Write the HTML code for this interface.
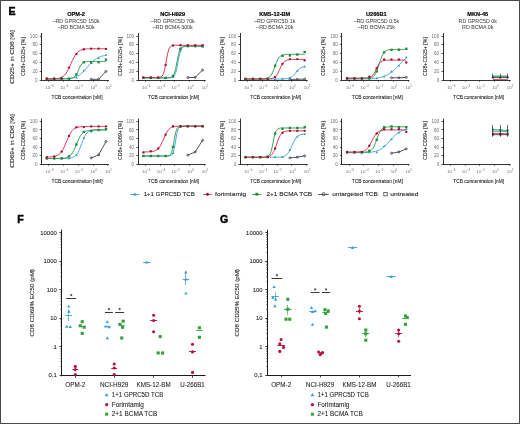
<!DOCTYPE html>
<html><head><meta charset="utf-8"><style>
html,body{margin:0;padding:0;background:#fff;}
body{width:520px;height:424px;overflow:hidden;}
svg{display:block;font-family:"Liberation Sans", sans-serif;filter:blur(0.35px);}
</style></head><body>
<svg width="520" height="424" viewBox="0 0 520 424">
<rect x="0" y="0" width="520" height="424" fill="#fff"/>
<line x1="41.50" y1="33.00" x2="41.50" y2="80.60" stroke="#1a1a1a" stroke-width="0.9"/>
<line x1="41.10" y1="80.50" x2="109.00" y2="80.50" stroke="#1a1a1a" stroke-width="0.9"/>
<line x1="39.70" y1="80.50" x2="41.50" y2="80.50" stroke="#1a1a1a" stroke-width="0.7"/>
<text x="37.50" y="81.80" font-size="4.6" text-anchor="end" fill="#707070">0</text>
<line x1="39.70" y1="71.50" x2="41.50" y2="71.50" stroke="#1a1a1a" stroke-width="0.7"/>
<text x="37.50" y="72.96" font-size="4.6" text-anchor="end" fill="#707070">20</text>
<line x1="39.70" y1="62.50" x2="41.50" y2="62.50" stroke="#1a1a1a" stroke-width="0.7"/>
<text x="37.50" y="64.12" font-size="4.6" text-anchor="end" fill="#707070">40</text>
<line x1="39.70" y1="53.50" x2="41.50" y2="53.50" stroke="#1a1a1a" stroke-width="0.7"/>
<text x="37.50" y="55.28" font-size="4.6" text-anchor="end" fill="#707070">60</text>
<line x1="39.70" y1="44.50" x2="41.50" y2="44.50" stroke="#1a1a1a" stroke-width="0.7"/>
<text x="37.50" y="46.44" font-size="4.6" text-anchor="end" fill="#707070">80</text>
<line x1="39.70" y1="36.50" x2="41.50" y2="36.50" stroke="#1a1a1a" stroke-width="0.7"/>
<text x="37.50" y="37.60" font-size="4.6" text-anchor="end" fill="#707070">100</text>
<line x1="48.50" y1="80.20" x2="48.50" y2="81.80" stroke="#1a1a1a" stroke-width="0.6"/>
<line x1="63.50" y1="80.20" x2="63.50" y2="81.80" stroke="#1a1a1a" stroke-width="0.6"/>
<line x1="78.50" y1="80.20" x2="78.50" y2="81.80" stroke="#1a1a1a" stroke-width="0.6"/>
<line x1="93.50" y1="80.20" x2="93.50" y2="81.80" stroke="#1a1a1a" stroke-width="0.6"/>
<line x1="107.50" y1="80.20" x2="107.50" y2="81.80" stroke="#1a1a1a" stroke-width="0.6"/>
<line x1="43.50" y1="80.20" x2="43.50" y2="81.20" stroke="#666" stroke-width="0.35"/>
<line x1="45.50" y1="80.20" x2="45.50" y2="81.20" stroke="#666" stroke-width="0.35"/>
<line x1="47.50" y1="80.20" x2="47.50" y2="81.20" stroke="#666" stroke-width="0.35"/>
<line x1="50.50" y1="80.20" x2="50.50" y2="81.20" stroke="#666" stroke-width="0.35"/>
<line x1="52.50" y1="80.20" x2="52.50" y2="81.20" stroke="#666" stroke-width="0.35"/>
<line x1="54.50" y1="80.20" x2="54.50" y2="81.20" stroke="#666" stroke-width="0.35"/>
<line x1="56.50" y1="80.20" x2="56.50" y2="81.20" stroke="#666" stroke-width="0.35"/>
<line x1="58.50" y1="80.20" x2="58.50" y2="81.20" stroke="#666" stroke-width="0.35"/>
<line x1="61.50" y1="80.20" x2="61.50" y2="81.20" stroke="#666" stroke-width="0.35"/>
<line x1="63.50" y1="80.20" x2="63.50" y2="81.20" stroke="#666" stroke-width="0.35"/>
<line x1="65.50" y1="80.20" x2="65.50" y2="81.20" stroke="#666" stroke-width="0.35"/>
<line x1="67.50" y1="80.20" x2="67.50" y2="81.20" stroke="#666" stroke-width="0.35"/>
<line x1="69.50" y1="80.20" x2="69.50" y2="81.20" stroke="#666" stroke-width="0.35"/>
<line x1="72.50" y1="80.20" x2="72.50" y2="81.20" stroke="#666" stroke-width="0.35"/>
<line x1="74.50" y1="80.20" x2="74.50" y2="81.20" stroke="#666" stroke-width="0.35"/>
<line x1="76.50" y1="80.20" x2="76.50" y2="81.20" stroke="#666" stroke-width="0.35"/>
<line x1="78.50" y1="80.20" x2="78.50" y2="81.20" stroke="#666" stroke-width="0.35"/>
<line x1="80.50" y1="80.20" x2="80.50" y2="81.20" stroke="#666" stroke-width="0.35"/>
<line x1="83.50" y1="80.20" x2="83.50" y2="81.20" stroke="#666" stroke-width="0.35"/>
<line x1="85.50" y1="80.20" x2="85.50" y2="81.20" stroke="#666" stroke-width="0.35"/>
<line x1="87.50" y1="80.20" x2="87.50" y2="81.20" stroke="#666" stroke-width="0.35"/>
<line x1="89.50" y1="80.20" x2="89.50" y2="81.20" stroke="#666" stroke-width="0.35"/>
<line x1="91.50" y1="80.20" x2="91.50" y2="81.20" stroke="#666" stroke-width="0.35"/>
<line x1="94.50" y1="80.20" x2="94.50" y2="81.20" stroke="#666" stroke-width="0.35"/>
<line x1="96.50" y1="80.20" x2="96.50" y2="81.20" stroke="#666" stroke-width="0.35"/>
<line x1="98.50" y1="80.20" x2="98.50" y2="81.20" stroke="#666" stroke-width="0.35"/>
<line x1="100.50" y1="80.20" x2="100.50" y2="81.20" stroke="#666" stroke-width="0.35"/>
<line x1="102.50" y1="80.20" x2="102.50" y2="81.20" stroke="#666" stroke-width="0.35"/>
<line x1="105.50" y1="80.20" x2="105.50" y2="81.20" stroke="#666" stroke-width="0.35"/>
<line x1="107.50" y1="80.20" x2="107.50" y2="81.20" stroke="#666" stroke-width="0.35"/>
<text x="49.60" y="89.00" font-size="4.4" text-anchor="middle" fill="#707070">10<tspan font-size="3.0" dy="-1.9">−6</tspan></text>
<text x="64.30" y="89.00" font-size="4.4" text-anchor="middle" fill="#707070">10<tspan font-size="3.0" dy="-1.9">−4</tspan></text>
<text x="79.00" y="89.00" font-size="4.4" text-anchor="middle" fill="#707070">10<tspan font-size="3.0" dy="-1.9">−2</tspan></text>
<text x="93.70" y="89.00" font-size="4.4" text-anchor="middle" fill="#707070">10<tspan font-size="3.0" dy="-1.9">0</tspan></text>
<text x="108.40" y="89.00" font-size="4.4" text-anchor="middle" fill="#707070">10<tspan font-size="3.0" dy="-1.9">2</tspan></text>
<text x="77.00" y="99.20" font-size="6.2" text-anchor="middle" fill="#262626" stroke="#262626" stroke-width="0.1" textLength="51" lengthAdjust="spacingAndGlyphs">TCB concentration [nM]</text>
<text x="25.10" y="56.60" font-size="5.9" text-anchor="middle" fill="#262626" stroke="#262626" stroke-width="0.1" textLength="39" lengthAdjust="spacingAndGlyphs" transform="rotate(-90 25.10 56.60)">CD8+CD25+ [%]</text>
<path d="M91.20 79.32 L98.60 79.32 L106.00 71.36" fill="none" stroke="#484c58" stroke-width="0.95" stroke-linejoin="round"/>
<path d="M46.80 79.19 L48.15 79.19 L49.49 79.18 L50.84 79.18 L52.18 79.17 L53.53 79.17 L54.87 79.16 L56.22 79.14 L57.56 79.12 L58.91 79.10 L60.25 79.07 L61.60 79.04 L62.95 78.99 L64.29 78.93 L65.64 78.85 L66.98 78.74 L68.33 78.61 L69.67 78.44 L71.02 78.22 L72.36 77.95 L73.71 77.60 L75.05 77.17 L76.40 76.63 L77.75 75.97 L79.09 75.17 L80.44 74.21 L81.78 73.10 L83.13 71.84 L84.47 70.43 L85.82 68.93 L87.16 67.35 L88.51 65.77 L89.85 64.22 L91.20 62.76 L92.55 61.43 L93.89 60.24 L95.24 59.21 L96.58 58.33 L97.93 57.61 L99.27 57.01 L100.62 56.52 L101.96 56.14 L103.31 55.83 L104.65 55.59 L106.00 55.39" fill="none" stroke="#40a8d8" stroke-width="0.95" stroke-linejoin="round"/>
<path d="M46.80 78.72 L48.15 78.72 L49.49 78.72 L50.84 78.72 L52.18 78.72 L53.53 78.72 L54.87 78.72 L56.22 78.72 L57.56 78.72 L58.91 78.72 L60.25 78.72 L61.60 78.72 L62.95 78.72 L64.29 78.71 L65.64 78.71 L66.98 78.69 L68.33 78.65 L69.67 78.58 L71.02 78.42 L72.36 78.11 L73.71 77.50 L75.05 76.37 L76.40 74.45 L77.75 71.71 L79.09 68.59 L80.44 65.82 L81.78 63.86 L83.13 62.70 L84.47 62.07 L85.82 61.75 L87.16 61.59 L88.51 61.51 L89.85 61.48 L91.20 61.46 L92.55 61.45 L93.89 61.45 L95.24 61.44 L96.58 61.44 L97.93 61.44 L99.27 61.44 L100.62 61.44 L101.96 61.44 L103.31 61.44 L104.65 61.44 L106.00 61.44" fill="none" stroke="#2f9e4c" stroke-width="0.95" stroke-linejoin="round"/>
<path d="M46.80 79.11 L48.15 79.10 L49.49 79.08 L50.84 79.05 L52.18 79.02 L53.53 78.96 L54.87 78.87 L56.22 78.75 L57.56 78.56 L58.91 78.29 L60.25 77.89 L61.60 77.32 L62.95 76.50 L64.29 75.36 L65.64 73.83 L66.98 71.84 L68.33 69.39 L69.67 66.58 L71.02 63.56 L72.36 60.56 L73.71 57.82 L75.05 55.49 L76.40 53.61 L77.75 52.18 L79.09 51.13 L80.44 50.37 L81.78 49.85 L83.13 49.48 L84.47 49.23 L85.82 49.07 L87.16 48.95 L88.51 48.87 L89.85 48.82 L91.20 48.79 L92.55 48.76 L93.89 48.75 L95.24 48.74 L96.58 48.73 L97.93 48.73 L99.27 48.72 L100.62 48.72 L101.96 48.72 L103.31 48.72 L104.65 48.72 L106.00 48.72" fill="none" stroke="#d8304e" stroke-width="0.95" stroke-linejoin="round"/>
<circle cx="91.20" cy="79.32" r="1.0" fill="none" stroke="#3a3e4c" stroke-width="0.8"/>
<circle cx="98.60" cy="79.32" r="1.0" fill="none" stroke="#3a3e4c" stroke-width="0.8"/>
<circle cx="106.00" cy="71.36" r="1.0" fill="none" stroke="#3a3e4c" stroke-width="0.8"/>
<path d="M46.80 77.53 L48.10 79.77 L45.50 79.77 Z" fill="#2f94c8"/>
<path d="M54.20 77.53 L55.50 79.77 L52.90 79.77 Z" fill="#2f94c8"/>
<path d="M61.60 77.53 L62.90 79.77 L60.30 79.77 Z" fill="#2f94c8"/>
<path d="M69.00 77.53 L70.30 79.77 L67.70 79.77 Z" fill="#2f94c8"/>
<path d="M76.40 76.20 L77.70 78.44 L75.10 78.44 Z" fill="#2f94c8"/>
<path d="M83.80 69.13 L85.10 71.37 L82.50 71.37 Z" fill="#2f94c8"/>
<path d="M91.20 61.40 L92.50 63.64 L89.90 63.64 Z" fill="#2f94c8"/>
<path d="M98.60 56.75 L99.90 59.00 L97.30 59.00 Z" fill="#2f94c8"/>
<path d="M106.00 53.44 L107.30 55.68 L104.70 55.68 Z" fill="#2f94c8"/>
<rect x="45.62" y="77.52" width="2.36" height="2.36" fill="#1f8a3a"/>
<rect x="53.02" y="77.52" width="2.36" height="2.36" fill="#1f8a3a"/>
<rect x="60.42" y="77.52" width="2.36" height="2.36" fill="#1f8a3a"/>
<rect x="67.82" y="77.52" width="2.36" height="2.36" fill="#1f8a3a"/>
<rect x="75.22" y="73.27" width="2.36" height="2.36" fill="#1f8a3a"/>
<rect x="82.62" y="61.12" width="2.36" height="2.36" fill="#1f8a3a"/>
<rect x="90.02" y="61.34" width="2.36" height="2.36" fill="#1f8a3a"/>
<rect x="97.42" y="61.03" width="2.36" height="2.36" fill="#1f8a3a"/>
<rect x="104.82" y="58.47" width="2.36" height="2.36" fill="#1f8a3a"/>
<circle cx="46.80" cy="78.70" r="1.18" fill="#a3112f"/>
<circle cx="54.20" cy="78.70" r="1.18" fill="#a3112f"/>
<circle cx="61.60" cy="78.21" r="1.18" fill="#a3112f"/>
<circle cx="69.00" cy="67.60" r="1.18" fill="#a3112f"/>
<circle cx="76.40" cy="53.99" r="1.18" fill="#a3112f"/>
<circle cx="83.80" cy="49.26" r="1.18" fill="#a3112f"/>
<circle cx="91.20" cy="48.60" r="1.18" fill="#a3112f"/>
<circle cx="98.60" cy="48.60" r="1.18" fill="#a3112f"/>
<circle cx="106.00" cy="48.91" r="1.18" fill="#a3112f"/>
<line x1="138.50" y1="33.00" x2="138.50" y2="80.60" stroke="#1a1a1a" stroke-width="0.9"/>
<line x1="137.70" y1="80.50" x2="205.60" y2="80.50" stroke="#1a1a1a" stroke-width="0.9"/>
<line x1="136.30" y1="80.50" x2="138.10" y2="80.50" stroke="#1a1a1a" stroke-width="0.7"/>
<text x="134.10" y="81.80" font-size="4.6" text-anchor="end" fill="#707070">0</text>
<line x1="136.30" y1="71.50" x2="138.10" y2="71.50" stroke="#1a1a1a" stroke-width="0.7"/>
<text x="134.10" y="72.96" font-size="4.6" text-anchor="end" fill="#707070">20</text>
<line x1="136.30" y1="62.50" x2="138.10" y2="62.50" stroke="#1a1a1a" stroke-width="0.7"/>
<text x="134.10" y="64.12" font-size="4.6" text-anchor="end" fill="#707070">40</text>
<line x1="136.30" y1="53.50" x2="138.10" y2="53.50" stroke="#1a1a1a" stroke-width="0.7"/>
<text x="134.10" y="55.28" font-size="4.6" text-anchor="end" fill="#707070">60</text>
<line x1="136.30" y1="44.50" x2="138.10" y2="44.50" stroke="#1a1a1a" stroke-width="0.7"/>
<text x="134.10" y="46.44" font-size="4.6" text-anchor="end" fill="#707070">80</text>
<line x1="136.30" y1="36.50" x2="138.10" y2="36.50" stroke="#1a1a1a" stroke-width="0.7"/>
<text x="134.10" y="37.60" font-size="4.6" text-anchor="end" fill="#707070">100</text>
<line x1="145.50" y1="80.20" x2="145.50" y2="81.80" stroke="#1a1a1a" stroke-width="0.6"/>
<line x1="160.50" y1="80.20" x2="160.50" y2="81.80" stroke="#1a1a1a" stroke-width="0.6"/>
<line x1="174.50" y1="80.20" x2="174.50" y2="81.80" stroke="#1a1a1a" stroke-width="0.6"/>
<line x1="189.50" y1="80.20" x2="189.50" y2="81.80" stroke="#1a1a1a" stroke-width="0.6"/>
<line x1="204.50" y1="80.20" x2="204.50" y2="81.80" stroke="#1a1a1a" stroke-width="0.6"/>
<line x1="140.50" y1="80.20" x2="140.50" y2="81.20" stroke="#666" stroke-width="0.35"/>
<line x1="142.50" y1="80.20" x2="142.50" y2="81.20" stroke="#666" stroke-width="0.35"/>
<line x1="144.50" y1="80.20" x2="144.50" y2="81.20" stroke="#666" stroke-width="0.35"/>
<line x1="146.50" y1="80.20" x2="146.50" y2="81.20" stroke="#666" stroke-width="0.35"/>
<line x1="148.50" y1="80.20" x2="148.50" y2="81.20" stroke="#666" stroke-width="0.35"/>
<line x1="151.50" y1="80.20" x2="151.50" y2="81.20" stroke="#666" stroke-width="0.35"/>
<line x1="153.50" y1="80.20" x2="153.50" y2="81.20" stroke="#666" stroke-width="0.35"/>
<line x1="155.50" y1="80.20" x2="155.50" y2="81.20" stroke="#666" stroke-width="0.35"/>
<line x1="157.50" y1="80.20" x2="157.50" y2="81.20" stroke="#666" stroke-width="0.35"/>
<line x1="159.50" y1="80.20" x2="159.50" y2="81.20" stroke="#666" stroke-width="0.35"/>
<line x1="162.50" y1="80.20" x2="162.50" y2="81.20" stroke="#666" stroke-width="0.35"/>
<line x1="164.50" y1="80.20" x2="164.50" y2="81.20" stroke="#666" stroke-width="0.35"/>
<line x1="166.50" y1="80.20" x2="166.50" y2="81.20" stroke="#666" stroke-width="0.35"/>
<line x1="168.50" y1="80.20" x2="168.50" y2="81.20" stroke="#666" stroke-width="0.35"/>
<line x1="170.50" y1="80.20" x2="170.50" y2="81.20" stroke="#666" stroke-width="0.35"/>
<line x1="173.50" y1="80.20" x2="173.50" y2="81.20" stroke="#666" stroke-width="0.35"/>
<line x1="175.50" y1="80.20" x2="175.50" y2="81.20" stroke="#666" stroke-width="0.35"/>
<line x1="177.50" y1="80.20" x2="177.50" y2="81.20" stroke="#666" stroke-width="0.35"/>
<line x1="179.50" y1="80.20" x2="179.50" y2="81.20" stroke="#666" stroke-width="0.35"/>
<line x1="181.50" y1="80.20" x2="181.50" y2="81.20" stroke="#666" stroke-width="0.35"/>
<line x1="184.50" y1="80.20" x2="184.50" y2="81.20" stroke="#666" stroke-width="0.35"/>
<line x1="186.50" y1="80.20" x2="186.50" y2="81.20" stroke="#666" stroke-width="0.35"/>
<line x1="188.50" y1="80.20" x2="188.50" y2="81.20" stroke="#666" stroke-width="0.35"/>
<line x1="190.50" y1="80.20" x2="190.50" y2="81.20" stroke="#666" stroke-width="0.35"/>
<line x1="192.50" y1="80.20" x2="192.50" y2="81.20" stroke="#666" stroke-width="0.35"/>
<line x1="195.50" y1="80.20" x2="195.50" y2="81.20" stroke="#666" stroke-width="0.35"/>
<line x1="197.50" y1="80.20" x2="197.50" y2="81.20" stroke="#666" stroke-width="0.35"/>
<line x1="199.50" y1="80.20" x2="199.50" y2="81.20" stroke="#666" stroke-width="0.35"/>
<line x1="201.50" y1="80.20" x2="201.50" y2="81.20" stroke="#666" stroke-width="0.35"/>
<line x1="203.50" y1="80.20" x2="203.50" y2="81.20" stroke="#666" stroke-width="0.35"/>
<text x="146.20" y="89.00" font-size="4.4" text-anchor="middle" fill="#707070">10<tspan font-size="3.0" dy="-1.9">−6</tspan></text>
<text x="160.90" y="89.00" font-size="4.4" text-anchor="middle" fill="#707070">10<tspan font-size="3.0" dy="-1.9">−4</tspan></text>
<text x="175.60" y="89.00" font-size="4.4" text-anchor="middle" fill="#707070">10<tspan font-size="3.0" dy="-1.9">−2</tspan></text>
<text x="190.30" y="89.00" font-size="4.4" text-anchor="middle" fill="#707070">10<tspan font-size="3.0" dy="-1.9">0</tspan></text>
<text x="205.00" y="89.00" font-size="4.4" text-anchor="middle" fill="#707070">10<tspan font-size="3.0" dy="-1.9">2</tspan></text>
<text x="173.60" y="99.20" font-size="6.2" text-anchor="middle" fill="#262626" stroke="#262626" stroke-width="0.1" textLength="51" lengthAdjust="spacingAndGlyphs">TCB concentration [nM]</text>
<text x="121.70" y="56.60" font-size="5.9" text-anchor="middle" fill="#262626" stroke="#262626" stroke-width="0.1" textLength="39" lengthAdjust="spacingAndGlyphs" transform="rotate(-90 121.70 56.60)">CD8+CD25+ [%]</text>
<path d="M187.80 77.55 L195.20 77.33 L202.60 70.03" fill="none" stroke="#484c58" stroke-width="0.95" stroke-linejoin="round"/>
<path d="M143.40 77.99 L144.75 77.99 L146.09 77.99 L147.44 77.99 L148.78 77.99 L150.13 77.99 L151.47 77.99 L152.82 77.99 L154.16 77.99 L155.51 77.99 L156.85 77.99 L158.20 77.99 L159.55 77.99 L160.89 77.99 L162.24 77.99 L163.58 77.99 L164.93 77.99 L166.27 77.98 L167.62 77.97 L168.96 77.94 L170.31 77.86 L171.65 77.65 L173.00 77.11 L174.35 75.79 L175.69 72.80 L177.04 67.24 L178.38 59.81 L179.73 53.30 L181.07 49.40 L182.42 47.56 L183.76 46.80 L185.11 46.49 L186.45 46.38 L187.80 46.33 L189.15 46.32 L190.49 46.31 L191.84 46.31 L193.18 46.31 L194.53 46.30 L195.87 46.30 L197.22 46.30 L198.56 46.30 L199.91 46.30 L201.25 46.30 L202.60 46.30" fill="none" stroke="#40a8d8" stroke-width="0.95" stroke-linejoin="round"/>
<path d="M143.40 77.82 L144.75 77.82 L146.09 77.82 L147.44 77.82 L148.78 77.82 L150.13 77.82 L151.47 77.82 L152.82 77.82 L154.16 77.82 L155.51 77.82 L156.85 77.82 L158.20 77.82 L159.55 77.82 L160.89 77.82 L162.24 77.81 L163.58 77.81 L164.93 77.81 L166.27 77.80 L167.62 77.77 L168.96 77.69 L170.31 77.51 L171.65 77.04 L173.00 75.91 L174.35 73.38 L175.69 68.54 L177.04 61.56 L178.38 54.75 L179.73 50.20 L181.07 47.88 L182.42 46.86 L183.76 46.44 L185.11 46.27 L186.45 46.20 L187.80 46.18 L189.15 46.17 L190.49 46.16 L191.84 46.16 L193.18 46.16 L194.53 46.16 L195.87 46.16 L197.22 46.16 L198.56 46.16 L199.91 46.16 L201.25 46.16 L202.60 46.16" fill="none" stroke="#2f9e4c" stroke-width="0.95" stroke-linejoin="round"/>
<path d="M143.40 77.57 L144.75 77.57 L146.09 77.57 L147.44 77.57 L148.78 77.57 L150.13 77.57 L151.47 77.57 L152.82 77.57 L154.16 77.57 L155.51 77.56 L156.85 77.55 L158.20 77.49 L159.55 77.35 L160.89 76.98 L162.24 75.99 L163.58 73.56 L164.93 68.52 L166.27 60.89 L167.62 53.49 L168.96 48.86 L170.31 46.69 L171.65 45.81 L173.00 45.48 L174.35 45.36 L175.69 45.31 L177.04 45.30 L178.38 45.29 L179.73 45.29 L181.07 45.29 L182.42 45.29 L183.76 45.29 L185.11 45.29 L186.45 45.29 L187.80 45.29 L189.15 45.29 L190.49 45.29 L191.84 45.29 L193.18 45.29 L194.53 45.29 L195.87 45.29 L197.22 45.29 L198.56 45.29 L199.91 45.29 L201.25 45.29 L202.60 45.29" fill="none" stroke="#d8304e" stroke-width="0.95" stroke-linejoin="round"/>
<circle cx="187.80" cy="77.55" r="1.0" fill="none" stroke="#3a3e4c" stroke-width="0.8"/>
<circle cx="195.20" cy="77.33" r="1.0" fill="none" stroke="#3a3e4c" stroke-width="0.8"/>
<circle cx="202.60" cy="70.03" r="1.0" fill="none" stroke="#3a3e4c" stroke-width="0.8"/>
<path d="M143.40 76.64 L144.70 78.89 L142.10 78.89 Z" fill="#2f94c8"/>
<path d="M150.80 76.64 L152.10 78.89 L149.50 78.89 Z" fill="#2f94c8"/>
<path d="M158.20 76.64 L159.50 78.89 L156.90 78.89 Z" fill="#2f94c8"/>
<path d="M165.60 76.64 L166.90 78.89 L164.30 78.89 Z" fill="#2f94c8"/>
<path d="M173.00 75.76 L174.30 78.00 L171.70 78.00 Z" fill="#2f94c8"/>
<path d="M180.40 49.68 L181.70 51.92 L179.10 51.92 Z" fill="#2f94c8"/>
<path d="M187.80 44.82 L189.10 47.06 L186.50 47.06 Z" fill="#2f94c8"/>
<path d="M195.20 44.82 L196.50 47.06 L193.90 47.06 Z" fill="#2f94c8"/>
<path d="M202.60 45.26 L203.90 47.50 L201.30 47.50 Z" fill="#2f94c8"/>
<rect x="142.22" y="76.63" width="2.36" height="2.36" fill="#1f8a3a"/>
<rect x="149.62" y="76.63" width="2.36" height="2.36" fill="#1f8a3a"/>
<rect x="157.02" y="76.63" width="2.36" height="2.36" fill="#1f8a3a"/>
<rect x="164.42" y="76.63" width="2.36" height="2.36" fill="#1f8a3a"/>
<rect x="171.82" y="74.73" width="2.36" height="2.36" fill="#1f8a3a"/>
<rect x="179.22" y="47.64" width="2.36" height="2.36" fill="#1f8a3a"/>
<rect x="186.62" y="44.99" width="2.36" height="2.36" fill="#1f8a3a"/>
<rect x="194.02" y="44.99" width="2.36" height="2.36" fill="#1f8a3a"/>
<rect x="201.42" y="44.99" width="2.36" height="2.36" fill="#1f8a3a"/>
<circle cx="143.40" cy="77.55" r="1.18" fill="#a3112f"/>
<circle cx="150.80" cy="77.55" r="1.18" fill="#a3112f"/>
<circle cx="158.20" cy="77.55" r="1.18" fill="#a3112f"/>
<circle cx="165.60" cy="64.91" r="1.18" fill="#a3112f"/>
<circle cx="173.00" cy="45.50" r="1.18" fill="#a3112f"/>
<circle cx="180.40" cy="45.28" r="1.18" fill="#a3112f"/>
<circle cx="187.80" cy="45.28" r="1.18" fill="#a3112f"/>
<circle cx="195.20" cy="45.28" r="1.18" fill="#a3112f"/>
<circle cx="202.60" cy="45.28" r="1.18" fill="#a3112f"/>
<line x1="240.50" y1="33.00" x2="240.50" y2="80.60" stroke="#1a1a1a" stroke-width="0.9"/>
<line x1="239.80" y1="80.50" x2="307.70" y2="80.50" stroke="#1a1a1a" stroke-width="0.9"/>
<line x1="238.40" y1="80.50" x2="240.20" y2="80.50" stroke="#1a1a1a" stroke-width="0.7"/>
<text x="236.20" y="81.80" font-size="4.6" text-anchor="end" fill="#707070">0</text>
<line x1="238.40" y1="71.50" x2="240.20" y2="71.50" stroke="#1a1a1a" stroke-width="0.7"/>
<text x="236.20" y="72.96" font-size="4.6" text-anchor="end" fill="#707070">20</text>
<line x1="238.40" y1="62.50" x2="240.20" y2="62.50" stroke="#1a1a1a" stroke-width="0.7"/>
<text x="236.20" y="64.12" font-size="4.6" text-anchor="end" fill="#707070">40</text>
<line x1="238.40" y1="53.50" x2="240.20" y2="53.50" stroke="#1a1a1a" stroke-width="0.7"/>
<text x="236.20" y="55.28" font-size="4.6" text-anchor="end" fill="#707070">60</text>
<line x1="238.40" y1="44.50" x2="240.20" y2="44.50" stroke="#1a1a1a" stroke-width="0.7"/>
<text x="236.20" y="46.44" font-size="4.6" text-anchor="end" fill="#707070">80</text>
<line x1="238.40" y1="36.50" x2="240.20" y2="36.50" stroke="#1a1a1a" stroke-width="0.7"/>
<text x="236.20" y="37.60" font-size="4.6" text-anchor="end" fill="#707070">100</text>
<line x1="247.50" y1="80.20" x2="247.50" y2="81.80" stroke="#1a1a1a" stroke-width="0.6"/>
<line x1="262.50" y1="80.20" x2="262.50" y2="81.80" stroke="#1a1a1a" stroke-width="0.6"/>
<line x1="277.50" y1="80.20" x2="277.50" y2="81.80" stroke="#1a1a1a" stroke-width="0.6"/>
<line x1="291.50" y1="80.20" x2="291.50" y2="81.80" stroke="#1a1a1a" stroke-width="0.6"/>
<line x1="306.50" y1="80.20" x2="306.50" y2="81.80" stroke="#1a1a1a" stroke-width="0.6"/>
<line x1="242.50" y1="80.20" x2="242.50" y2="81.20" stroke="#666" stroke-width="0.35"/>
<line x1="244.50" y1="80.20" x2="244.50" y2="81.20" stroke="#666" stroke-width="0.35"/>
<line x1="246.50" y1="80.20" x2="246.50" y2="81.20" stroke="#666" stroke-width="0.35"/>
<line x1="248.50" y1="80.20" x2="248.50" y2="81.20" stroke="#666" stroke-width="0.35"/>
<line x1="251.50" y1="80.20" x2="251.50" y2="81.20" stroke="#666" stroke-width="0.35"/>
<line x1="253.50" y1="80.20" x2="253.50" y2="81.20" stroke="#666" stroke-width="0.35"/>
<line x1="255.50" y1="80.20" x2="255.50" y2="81.20" stroke="#666" stroke-width="0.35"/>
<line x1="257.50" y1="80.20" x2="257.50" y2="81.20" stroke="#666" stroke-width="0.35"/>
<line x1="259.50" y1="80.20" x2="259.50" y2="81.20" stroke="#666" stroke-width="0.35"/>
<line x1="262.50" y1="80.20" x2="262.50" y2="81.20" stroke="#666" stroke-width="0.35"/>
<line x1="264.50" y1="80.20" x2="264.50" y2="81.20" stroke="#666" stroke-width="0.35"/>
<line x1="266.50" y1="80.20" x2="266.50" y2="81.20" stroke="#666" stroke-width="0.35"/>
<line x1="268.50" y1="80.20" x2="268.50" y2="81.20" stroke="#666" stroke-width="0.35"/>
<line x1="270.50" y1="80.20" x2="270.50" y2="81.20" stroke="#666" stroke-width="0.35"/>
<line x1="273.50" y1="80.20" x2="273.50" y2="81.20" stroke="#666" stroke-width="0.35"/>
<line x1="275.50" y1="80.20" x2="275.50" y2="81.20" stroke="#666" stroke-width="0.35"/>
<line x1="277.50" y1="80.20" x2="277.50" y2="81.20" stroke="#666" stroke-width="0.35"/>
<line x1="279.50" y1="80.20" x2="279.50" y2="81.20" stroke="#666" stroke-width="0.35"/>
<line x1="281.50" y1="80.20" x2="281.50" y2="81.20" stroke="#666" stroke-width="0.35"/>
<line x1="284.50" y1="80.20" x2="284.50" y2="81.20" stroke="#666" stroke-width="0.35"/>
<line x1="286.50" y1="80.20" x2="286.50" y2="81.20" stroke="#666" stroke-width="0.35"/>
<line x1="288.50" y1="80.20" x2="288.50" y2="81.20" stroke="#666" stroke-width="0.35"/>
<line x1="290.50" y1="80.20" x2="290.50" y2="81.20" stroke="#666" stroke-width="0.35"/>
<line x1="292.50" y1="80.20" x2="292.50" y2="81.20" stroke="#666" stroke-width="0.35"/>
<line x1="295.50" y1="80.20" x2="295.50" y2="81.20" stroke="#666" stroke-width="0.35"/>
<line x1="297.50" y1="80.20" x2="297.50" y2="81.20" stroke="#666" stroke-width="0.35"/>
<line x1="299.50" y1="80.20" x2="299.50" y2="81.20" stroke="#666" stroke-width="0.35"/>
<line x1="301.50" y1="80.20" x2="301.50" y2="81.20" stroke="#666" stroke-width="0.35"/>
<line x1="303.50" y1="80.20" x2="303.50" y2="81.20" stroke="#666" stroke-width="0.35"/>
<line x1="306.50" y1="80.20" x2="306.50" y2="81.20" stroke="#666" stroke-width="0.35"/>
<text x="248.30" y="89.00" font-size="4.4" text-anchor="middle" fill="#707070">10<tspan font-size="3.0" dy="-1.9">−6</tspan></text>
<text x="263.00" y="89.00" font-size="4.4" text-anchor="middle" fill="#707070">10<tspan font-size="3.0" dy="-1.9">−4</tspan></text>
<text x="277.70" y="89.00" font-size="4.4" text-anchor="middle" fill="#707070">10<tspan font-size="3.0" dy="-1.9">−2</tspan></text>
<text x="292.40" y="89.00" font-size="4.4" text-anchor="middle" fill="#707070">10<tspan font-size="3.0" dy="-1.9">0</tspan></text>
<text x="307.10" y="89.00" font-size="4.4" text-anchor="middle" fill="#707070">10<tspan font-size="3.0" dy="-1.9">2</tspan></text>
<text x="275.70" y="99.20" font-size="6.2" text-anchor="middle" fill="#262626" stroke="#262626" stroke-width="0.1" textLength="51" lengthAdjust="spacingAndGlyphs">TCB concentration [nM]</text>
<text x="223.80" y="56.60" font-size="5.9" text-anchor="middle" fill="#262626" stroke="#262626" stroke-width="0.1" textLength="39" lengthAdjust="spacingAndGlyphs" transform="rotate(-90 223.80 56.60)">CD8+CD25+ [%]</text>
<path d="M289.90 79.32 L297.30 79.32 L304.70 79.09" fill="none" stroke="#484c58" stroke-width="0.95" stroke-linejoin="round"/>
<path d="M245.50 79.08 L246.85 79.08 L248.19 79.08 L249.54 79.08 L250.88 79.08 L252.23 79.08 L253.57 79.08 L254.92 79.08 L256.26 79.08 L257.61 79.08 L258.95 79.08 L260.30 79.08 L261.65 79.08 L262.99 79.08 L264.34 79.08 L265.68 79.08 L267.03 79.08 L268.37 79.08 L269.72 79.08 L271.06 79.08 L272.41 79.07 L273.75 79.07 L275.10 79.07 L276.45 79.07 L277.79 79.06 L279.14 79.05 L280.48 79.03 L281.83 79.00 L283.17 78.96 L284.52 78.88 L285.86 78.76 L287.21 78.57 L288.55 78.27 L289.90 77.80 L291.25 77.10 L292.59 76.12 L293.94 74.83 L295.28 73.31 L296.63 71.70 L297.97 70.19 L299.32 68.92 L300.66 67.95 L302.01 67.26 L303.35 66.80 L304.70 66.50" fill="none" stroke="#40a8d8" stroke-width="0.95" stroke-linejoin="round"/>
<path d="M245.50 79.11 L246.85 79.11 L248.19 79.11 L249.54 79.11 L250.88 79.11 L252.23 79.11 L253.57 79.11 L254.92 79.11 L256.26 79.10 L257.61 79.10 L258.95 79.09 L260.30 79.07 L261.65 79.04 L262.99 78.98 L264.34 78.87 L265.68 78.69 L267.03 78.35 L268.37 77.77 L269.72 76.77 L271.06 75.17 L272.41 72.78 L273.75 69.59 L275.10 65.94 L276.45 62.41 L277.79 59.51 L279.14 57.45 L280.48 56.12 L281.83 55.31 L283.17 54.84 L284.52 54.57 L285.86 54.42 L287.21 54.34 L288.55 54.29 L289.90 54.27 L291.25 54.25 L292.59 54.25 L293.94 54.24 L295.28 54.24 L296.63 54.24 L297.97 54.24 L299.32 54.24 L300.66 54.24 L302.01 54.24 L303.35 54.24 L304.70 54.24" fill="none" stroke="#2f9e4c" stroke-width="0.95" stroke-linejoin="round"/>
<path d="M245.50 78.88 L246.85 78.88 L248.19 78.88 L249.54 78.88 L250.88 78.88 L252.23 78.88 L253.57 78.88 L254.92 78.88 L256.26 78.88 L257.61 78.88 L258.95 78.88 L260.30 78.88 L261.65 78.88 L262.99 78.87 L264.34 78.87 L265.68 78.85 L267.03 78.83 L268.37 78.79 L269.72 78.71 L271.06 78.56 L272.41 78.29 L273.75 77.80 L275.10 76.94 L276.45 75.54 L277.79 73.45 L279.14 70.70 L280.48 67.68 L281.83 64.93 L283.17 62.83 L284.52 61.42 L285.86 60.56 L287.21 60.07 L288.55 59.79 L289.90 59.64 L291.25 59.56 L292.59 59.52 L293.94 59.50 L295.28 59.48 L296.63 59.48 L297.97 59.47 L299.32 59.47 L300.66 59.47 L302.01 59.47 L303.35 59.47 L304.70 59.47" fill="none" stroke="#d8304e" stroke-width="0.95" stroke-linejoin="round"/>
<circle cx="289.90" cy="79.32" r="1.0" fill="none" stroke="#3a3e4c" stroke-width="0.8"/>
<circle cx="297.30" cy="79.32" r="1.0" fill="none" stroke="#3a3e4c" stroke-width="0.8"/>
<circle cx="304.70" cy="79.09" r="1.0" fill="none" stroke="#3a3e4c" stroke-width="0.8"/>
<path d="M245.50 77.75 L246.80 79.99 L244.20 79.99 Z" fill="#2f94c8"/>
<path d="M252.90 77.75 L254.20 79.99 L251.60 79.99 Z" fill="#2f94c8"/>
<path d="M260.30 77.75 L261.60 79.99 L259.00 79.99 Z" fill="#2f94c8"/>
<path d="M267.70 77.75 L269.00 79.99 L266.40 79.99 Z" fill="#2f94c8"/>
<path d="M275.10 77.75 L276.40 79.99 L273.80 79.99 Z" fill="#2f94c8"/>
<path d="M282.50 77.53 L283.80 79.77 L281.20 79.77 Z" fill="#2f94c8"/>
<path d="M289.90 76.47 L291.20 78.71 L288.60 78.71 Z" fill="#2f94c8"/>
<path d="M297.30 69.57 L298.60 71.81 L296.00 71.81 Z" fill="#2f94c8"/>
<path d="M304.70 65.15 L306.00 67.39 L303.40 67.39 Z" fill="#2f94c8"/>
<rect x="244.32" y="77.69" width="2.36" height="2.36" fill="#1f8a3a"/>
<rect x="251.72" y="77.69" width="2.36" height="2.36" fill="#1f8a3a"/>
<rect x="259.12" y="77.69" width="2.36" height="2.36" fill="#1f8a3a"/>
<rect x="266.52" y="77.69" width="2.36" height="2.36" fill="#1f8a3a"/>
<rect x="273.92" y="64.52" width="2.36" height="2.36" fill="#1f8a3a"/>
<rect x="281.32" y="54.71" width="2.36" height="2.36" fill="#1f8a3a"/>
<rect x="288.72" y="54.27" width="2.36" height="2.36" fill="#1f8a3a"/>
<rect x="296.12" y="53.38" width="2.36" height="2.36" fill="#1f8a3a"/>
<rect x="303.52" y="50.82" width="2.36" height="2.36" fill="#1f8a3a"/>
<circle cx="245.50" cy="78.87" r="1.18" fill="#a3112f"/>
<circle cx="252.90" cy="78.87" r="1.18" fill="#a3112f"/>
<circle cx="260.30" cy="78.87" r="1.18" fill="#a3112f"/>
<circle cx="267.70" cy="78.87" r="1.18" fill="#a3112f"/>
<circle cx="275.10" cy="76.89" r="1.18" fill="#a3112f"/>
<circle cx="282.50" cy="63.85" r="1.18" fill="#a3112f"/>
<circle cx="289.90" cy="59.12" r="1.18" fill="#a3112f"/>
<circle cx="297.30" cy="59.12" r="1.18" fill="#a3112f"/>
<circle cx="304.70" cy="60.31" r="1.18" fill="#a3112f"/>
<line x1="341.50" y1="33.00" x2="341.50" y2="80.60" stroke="#1a1a1a" stroke-width="0.9"/>
<line x1="341.40" y1="80.50" x2="409.30" y2="80.50" stroke="#1a1a1a" stroke-width="0.9"/>
<line x1="340.00" y1="80.50" x2="341.80" y2="80.50" stroke="#1a1a1a" stroke-width="0.7"/>
<text x="337.80" y="81.80" font-size="4.6" text-anchor="end" fill="#707070">0</text>
<line x1="340.00" y1="71.50" x2="341.80" y2="71.50" stroke="#1a1a1a" stroke-width="0.7"/>
<text x="337.80" y="72.96" font-size="4.6" text-anchor="end" fill="#707070">20</text>
<line x1="340.00" y1="62.50" x2="341.80" y2="62.50" stroke="#1a1a1a" stroke-width="0.7"/>
<text x="337.80" y="64.12" font-size="4.6" text-anchor="end" fill="#707070">40</text>
<line x1="340.00" y1="53.50" x2="341.80" y2="53.50" stroke="#1a1a1a" stroke-width="0.7"/>
<text x="337.80" y="55.28" font-size="4.6" text-anchor="end" fill="#707070">60</text>
<line x1="340.00" y1="44.50" x2="341.80" y2="44.50" stroke="#1a1a1a" stroke-width="0.7"/>
<text x="337.80" y="46.44" font-size="4.6" text-anchor="end" fill="#707070">80</text>
<line x1="340.00" y1="36.50" x2="341.80" y2="36.50" stroke="#1a1a1a" stroke-width="0.7"/>
<text x="337.80" y="37.60" font-size="4.6" text-anchor="end" fill="#707070">100</text>
<line x1="349.50" y1="80.20" x2="349.50" y2="81.80" stroke="#1a1a1a" stroke-width="0.6"/>
<line x1="363.50" y1="80.20" x2="363.50" y2="81.80" stroke="#1a1a1a" stroke-width="0.6"/>
<line x1="378.50" y1="80.20" x2="378.50" y2="81.80" stroke="#1a1a1a" stroke-width="0.6"/>
<line x1="393.50" y1="80.20" x2="393.50" y2="81.80" stroke="#1a1a1a" stroke-width="0.6"/>
<line x1="408.50" y1="80.20" x2="408.50" y2="81.80" stroke="#1a1a1a" stroke-width="0.6"/>
<line x1="343.50" y1="80.20" x2="343.50" y2="81.20" stroke="#666" stroke-width="0.35"/>
<line x1="346.50" y1="80.20" x2="346.50" y2="81.20" stroke="#666" stroke-width="0.35"/>
<line x1="348.50" y1="80.20" x2="348.50" y2="81.20" stroke="#666" stroke-width="0.35"/>
<line x1="350.50" y1="80.20" x2="350.50" y2="81.20" stroke="#666" stroke-width="0.35"/>
<line x1="352.50" y1="80.20" x2="352.50" y2="81.20" stroke="#666" stroke-width="0.35"/>
<line x1="354.50" y1="80.20" x2="354.50" y2="81.20" stroke="#666" stroke-width="0.35"/>
<line x1="357.50" y1="80.20" x2="357.50" y2="81.20" stroke="#666" stroke-width="0.35"/>
<line x1="359.50" y1="80.20" x2="359.50" y2="81.20" stroke="#666" stroke-width="0.35"/>
<line x1="361.50" y1="80.20" x2="361.50" y2="81.20" stroke="#666" stroke-width="0.35"/>
<line x1="363.50" y1="80.20" x2="363.50" y2="81.20" stroke="#666" stroke-width="0.35"/>
<line x1="365.50" y1="80.20" x2="365.50" y2="81.20" stroke="#666" stroke-width="0.35"/>
<line x1="368.50" y1="80.20" x2="368.50" y2="81.20" stroke="#666" stroke-width="0.35"/>
<line x1="370.50" y1="80.20" x2="370.50" y2="81.20" stroke="#666" stroke-width="0.35"/>
<line x1="372.50" y1="80.20" x2="372.50" y2="81.20" stroke="#666" stroke-width="0.35"/>
<line x1="374.50" y1="80.20" x2="374.50" y2="81.20" stroke="#666" stroke-width="0.35"/>
<line x1="376.50" y1="80.20" x2="376.50" y2="81.20" stroke="#666" stroke-width="0.35"/>
<line x1="379.50" y1="80.20" x2="379.50" y2="81.20" stroke="#666" stroke-width="0.35"/>
<line x1="381.50" y1="80.20" x2="381.50" y2="81.20" stroke="#666" stroke-width="0.35"/>
<line x1="383.50" y1="80.20" x2="383.50" y2="81.20" stroke="#666" stroke-width="0.35"/>
<line x1="385.50" y1="80.20" x2="385.50" y2="81.20" stroke="#666" stroke-width="0.35"/>
<line x1="387.50" y1="80.20" x2="387.50" y2="81.20" stroke="#666" stroke-width="0.35"/>
<line x1="390.50" y1="80.20" x2="390.50" y2="81.20" stroke="#666" stroke-width="0.35"/>
<line x1="392.50" y1="80.20" x2="392.50" y2="81.20" stroke="#666" stroke-width="0.35"/>
<line x1="394.50" y1="80.20" x2="394.50" y2="81.20" stroke="#666" stroke-width="0.35"/>
<line x1="396.50" y1="80.20" x2="396.50" y2="81.20" stroke="#666" stroke-width="0.35"/>
<line x1="398.50" y1="80.20" x2="398.50" y2="81.20" stroke="#666" stroke-width="0.35"/>
<line x1="401.50" y1="80.20" x2="401.50" y2="81.20" stroke="#666" stroke-width="0.35"/>
<line x1="403.50" y1="80.20" x2="403.50" y2="81.20" stroke="#666" stroke-width="0.35"/>
<line x1="405.50" y1="80.20" x2="405.50" y2="81.20" stroke="#666" stroke-width="0.35"/>
<line x1="407.50" y1="80.20" x2="407.50" y2="81.20" stroke="#666" stroke-width="0.35"/>
<text x="349.90" y="89.00" font-size="4.4" text-anchor="middle" fill="#707070">10<tspan font-size="3.0" dy="-1.9">−6</tspan></text>
<text x="364.60" y="89.00" font-size="4.4" text-anchor="middle" fill="#707070">10<tspan font-size="3.0" dy="-1.9">−4</tspan></text>
<text x="379.30" y="89.00" font-size="4.4" text-anchor="middle" fill="#707070">10<tspan font-size="3.0" dy="-1.9">−2</tspan></text>
<text x="394.00" y="89.00" font-size="4.4" text-anchor="middle" fill="#707070">10<tspan font-size="3.0" dy="-1.9">0</tspan></text>
<text x="408.70" y="89.00" font-size="4.4" text-anchor="middle" fill="#707070">10<tspan font-size="3.0" dy="-1.9">2</tspan></text>
<text x="377.30" y="99.20" font-size="6.2" text-anchor="middle" fill="#262626" stroke="#262626" stroke-width="0.1" textLength="51" lengthAdjust="spacingAndGlyphs">TCB concentration [nM]</text>
<text x="325.40" y="56.60" font-size="5.9" text-anchor="middle" fill="#262626" stroke="#262626" stroke-width="0.1" textLength="39" lengthAdjust="spacingAndGlyphs" transform="rotate(-90 325.40 56.60)">CD8+CD25+ [%]</text>
<path d="M391.50 77.81 L398.90 77.81 L406.30 77.33" fill="none" stroke="#484c58" stroke-width="0.95" stroke-linejoin="round"/>
<path d="M347.10 79.09 L348.45 79.09 L349.79 79.09 L351.14 79.08 L352.48 79.07 L353.83 79.07 L355.17 79.06 L356.52 79.05 L357.86 79.03 L359.21 79.02 L360.55 79.00 L361.90 78.97 L363.25 78.94 L364.59 78.91 L365.94 78.87 L367.28 78.82 L368.63 78.76 L369.97 78.68 L371.32 78.60 L372.66 78.49 L374.01 78.37 L375.35 78.22 L376.70 78.04 L378.05 77.82 L379.39 77.57 L380.74 77.27 L382.08 76.92 L383.43 76.50 L384.77 76.02 L386.12 75.45 L387.46 74.80 L388.81 74.05 L390.15 73.21 L391.50 72.25 L392.85 71.19 L394.19 70.02 L395.54 68.76 L396.88 67.41 L398.23 66.00 L399.57 64.54 L400.92 63.06 L402.26 61.58 L403.61 60.13 L404.95 58.73 L406.30 57.41" fill="none" stroke="#40a8d8" stroke-width="0.95" stroke-linejoin="round"/>
<path d="M347.10 78.46 L348.45 78.46 L349.79 78.46 L351.14 78.46 L352.48 78.46 L353.83 78.46 L355.17 78.46 L356.52 78.46 L357.86 78.46 L359.21 78.46 L360.55 78.46 L361.90 78.45 L363.25 78.44 L364.59 78.42 L365.94 78.39 L367.28 78.33 L368.63 78.21 L369.97 78.01 L371.32 77.64 L372.66 77.00 L374.01 75.89 L375.35 74.09 L376.70 71.36 L378.05 67.68 L379.39 63.40 L380.74 59.21 L382.08 55.75 L383.43 53.27 L384.77 51.67 L386.12 50.70 L387.46 50.14 L388.81 49.83 L390.15 49.65 L391.50 49.55 L392.85 49.50 L394.19 49.47 L395.54 49.45 L396.88 49.44 L398.23 49.44 L399.57 49.44 L400.92 49.43 L402.26 49.43 L403.61 49.43 L404.95 49.43 L406.30 49.43" fill="none" stroke="#2f9e4c" stroke-width="0.95" stroke-linejoin="round"/>
<path d="M347.10 78.08 L348.45 78.08 L349.79 78.08 L351.14 78.08 L352.48 78.08 L353.83 78.08 L355.17 78.08 L356.52 78.08 L357.86 78.08 L359.21 78.08 L360.55 78.07 L361.90 78.06 L363.25 78.05 L364.59 78.01 L365.94 77.95 L367.28 77.82 L368.63 77.60 L369.97 77.19 L371.32 76.47 L372.66 75.25 L374.01 73.39 L375.35 70.88 L376.70 68.05 L378.05 65.42 L379.39 63.38 L380.74 62.00 L382.08 61.17 L383.43 60.69 L384.77 60.43 L386.12 60.28 L387.46 60.21 L388.81 60.17 L390.15 60.15 L391.50 60.13 L392.85 60.13 L394.19 60.12 L395.54 60.12 L396.88 60.12 L398.23 60.12 L399.57 60.12 L400.92 60.12 L402.26 60.12 L403.61 60.12 L404.95 60.12 L406.30 60.12" fill="none" stroke="#d8304e" stroke-width="0.95" stroke-linejoin="round"/>
<circle cx="391.50" cy="77.81" r="1.0" fill="none" stroke="#3a3e4c" stroke-width="0.8"/>
<circle cx="398.90" cy="77.81" r="1.0" fill="none" stroke="#3a3e4c" stroke-width="0.8"/>
<circle cx="406.30" cy="77.33" r="1.0" fill="none" stroke="#3a3e4c" stroke-width="0.8"/>
<path d="M347.10 77.53 L348.40 79.77 L345.80 79.77 Z" fill="#2f94c8"/>
<path d="M354.50 77.53 L355.80 79.77 L353.20 79.77 Z" fill="#2f94c8"/>
<path d="M361.90 77.53 L363.20 79.77 L360.60 79.77 Z" fill="#2f94c8"/>
<path d="M369.30 77.53 L370.60 79.77 L368.00 79.77 Z" fill="#2f94c8"/>
<path d="M376.70 77.09 L378.00 79.33 L375.40 79.33 Z" fill="#2f94c8"/>
<path d="M384.10 75.32 L385.40 77.56 L382.80 77.56 Z" fill="#2f94c8"/>
<path d="M391.50 70.15 L392.80 72.39 L390.20 72.39 Z" fill="#2f94c8"/>
<path d="M398.90 64.36 L400.20 66.60 L397.60 66.60 Z" fill="#2f94c8"/>
<path d="M406.30 55.96 L407.60 58.20 L405.00 58.20 Z" fill="#2f94c8"/>
<rect x="345.92" y="77.25" width="2.36" height="2.36" fill="#1f8a3a"/>
<rect x="353.32" y="77.25" width="2.36" height="2.36" fill="#1f8a3a"/>
<rect x="360.72" y="77.25" width="2.36" height="2.36" fill="#1f8a3a"/>
<rect x="368.12" y="77.03" width="2.36" height="2.36" fill="#1f8a3a"/>
<rect x="375.52" y="70.18" width="2.36" height="2.36" fill="#1f8a3a"/>
<rect x="382.92" y="51.17" width="2.36" height="2.36" fill="#1f8a3a"/>
<rect x="390.32" y="48.74" width="2.36" height="2.36" fill="#1f8a3a"/>
<rect x="397.72" y="48.52" width="2.36" height="2.36" fill="#1f8a3a"/>
<rect x="405.12" y="47.64" width="2.36" height="2.36" fill="#1f8a3a"/>
<circle cx="347.10" cy="78.30" r="1.18" fill="#a3112f"/>
<circle cx="354.50" cy="78.30" r="1.18" fill="#a3112f"/>
<circle cx="361.90" cy="78.30" r="1.18" fill="#a3112f"/>
<circle cx="369.30" cy="76.66" r="1.18" fill="#a3112f"/>
<circle cx="376.70" cy="68.27" r="1.18" fill="#a3112f"/>
<circle cx="384.10" cy="59.43" r="1.18" fill="#a3112f"/>
<circle cx="391.50" cy="59.43" r="1.18" fill="#a3112f"/>
<circle cx="398.90" cy="59.43" r="1.18" fill="#a3112f"/>
<circle cx="406.30" cy="62.52" r="1.18" fill="#a3112f"/>
<line x1="443.50" y1="33.00" x2="443.50" y2="80.60" stroke="#1a1a1a" stroke-width="0.9"/>
<line x1="442.80" y1="80.50" x2="510.70" y2="80.50" stroke="#1a1a1a" stroke-width="0.9"/>
<line x1="441.40" y1="80.50" x2="443.20" y2="80.50" stroke="#1a1a1a" stroke-width="0.7"/>
<text x="439.20" y="81.80" font-size="4.6" text-anchor="end" fill="#707070">0</text>
<line x1="441.40" y1="71.50" x2="443.20" y2="71.50" stroke="#1a1a1a" stroke-width="0.7"/>
<text x="439.20" y="72.96" font-size="4.6" text-anchor="end" fill="#707070">20</text>
<line x1="441.40" y1="62.50" x2="443.20" y2="62.50" stroke="#1a1a1a" stroke-width="0.7"/>
<text x="439.20" y="64.12" font-size="4.6" text-anchor="end" fill="#707070">40</text>
<line x1="441.40" y1="53.50" x2="443.20" y2="53.50" stroke="#1a1a1a" stroke-width="0.7"/>
<text x="439.20" y="55.28" font-size="4.6" text-anchor="end" fill="#707070">60</text>
<line x1="441.40" y1="44.50" x2="443.20" y2="44.50" stroke="#1a1a1a" stroke-width="0.7"/>
<text x="439.20" y="46.44" font-size="4.6" text-anchor="end" fill="#707070">80</text>
<line x1="441.40" y1="36.50" x2="443.20" y2="36.50" stroke="#1a1a1a" stroke-width="0.7"/>
<text x="439.20" y="37.60" font-size="4.6" text-anchor="end" fill="#707070">100</text>
<line x1="450.50" y1="80.20" x2="450.50" y2="81.80" stroke="#1a1a1a" stroke-width="0.6"/>
<line x1="465.50" y1="80.20" x2="465.50" y2="81.80" stroke="#1a1a1a" stroke-width="0.6"/>
<line x1="479.50" y1="80.20" x2="479.50" y2="81.80" stroke="#1a1a1a" stroke-width="0.6"/>
<line x1="494.50" y1="80.20" x2="494.50" y2="81.80" stroke="#1a1a1a" stroke-width="0.6"/>
<line x1="509.50" y1="80.20" x2="509.50" y2="81.80" stroke="#1a1a1a" stroke-width="0.6"/>
<line x1="445.50" y1="80.20" x2="445.50" y2="81.20" stroke="#666" stroke-width="0.35"/>
<line x1="447.50" y1="80.20" x2="447.50" y2="81.20" stroke="#666" stroke-width="0.35"/>
<line x1="449.50" y1="80.20" x2="449.50" y2="81.20" stroke="#666" stroke-width="0.35"/>
<line x1="451.50" y1="80.20" x2="451.50" y2="81.20" stroke="#666" stroke-width="0.35"/>
<line x1="454.50" y1="80.20" x2="454.50" y2="81.20" stroke="#666" stroke-width="0.35"/>
<line x1="456.50" y1="80.20" x2="456.50" y2="81.20" stroke="#666" stroke-width="0.35"/>
<line x1="458.50" y1="80.20" x2="458.50" y2="81.20" stroke="#666" stroke-width="0.35"/>
<line x1="460.50" y1="80.20" x2="460.50" y2="81.20" stroke="#666" stroke-width="0.35"/>
<line x1="462.50" y1="80.20" x2="462.50" y2="81.20" stroke="#666" stroke-width="0.35"/>
<line x1="465.50" y1="80.20" x2="465.50" y2="81.20" stroke="#666" stroke-width="0.35"/>
<line x1="467.50" y1="80.20" x2="467.50" y2="81.20" stroke="#666" stroke-width="0.35"/>
<line x1="469.50" y1="80.20" x2="469.50" y2="81.20" stroke="#666" stroke-width="0.35"/>
<line x1="471.50" y1="80.20" x2="471.50" y2="81.20" stroke="#666" stroke-width="0.35"/>
<line x1="473.50" y1="80.20" x2="473.50" y2="81.20" stroke="#666" stroke-width="0.35"/>
<line x1="476.50" y1="80.20" x2="476.50" y2="81.20" stroke="#666" stroke-width="0.35"/>
<line x1="478.50" y1="80.20" x2="478.50" y2="81.20" stroke="#666" stroke-width="0.35"/>
<line x1="480.50" y1="80.20" x2="480.50" y2="81.20" stroke="#666" stroke-width="0.35"/>
<line x1="482.50" y1="80.20" x2="482.50" y2="81.20" stroke="#666" stroke-width="0.35"/>
<line x1="484.50" y1="80.20" x2="484.50" y2="81.20" stroke="#666" stroke-width="0.35"/>
<line x1="487.50" y1="80.20" x2="487.50" y2="81.20" stroke="#666" stroke-width="0.35"/>
<line x1="489.50" y1="80.20" x2="489.50" y2="81.20" stroke="#666" stroke-width="0.35"/>
<line x1="491.50" y1="80.20" x2="491.50" y2="81.20" stroke="#666" stroke-width="0.35"/>
<line x1="493.50" y1="80.20" x2="493.50" y2="81.20" stroke="#666" stroke-width="0.35"/>
<line x1="495.50" y1="80.20" x2="495.50" y2="81.20" stroke="#666" stroke-width="0.35"/>
<line x1="498.50" y1="80.20" x2="498.50" y2="81.20" stroke="#666" stroke-width="0.35"/>
<line x1="500.50" y1="80.20" x2="500.50" y2="81.20" stroke="#666" stroke-width="0.35"/>
<line x1="502.50" y1="80.20" x2="502.50" y2="81.20" stroke="#666" stroke-width="0.35"/>
<line x1="504.50" y1="80.20" x2="504.50" y2="81.20" stroke="#666" stroke-width="0.35"/>
<line x1="506.50" y1="80.20" x2="506.50" y2="81.20" stroke="#666" stroke-width="0.35"/>
<line x1="509.50" y1="80.20" x2="509.50" y2="81.20" stroke="#666" stroke-width="0.35"/>
<text x="451.30" y="89.00" font-size="4.4" text-anchor="middle" fill="#707070">10<tspan font-size="3.0" dy="-1.9">−6</tspan></text>
<text x="466.00" y="89.00" font-size="4.4" text-anchor="middle" fill="#707070">10<tspan font-size="3.0" dy="-1.9">−4</tspan></text>
<text x="480.70" y="89.00" font-size="4.4" text-anchor="middle" fill="#707070">10<tspan font-size="3.0" dy="-1.9">−2</tspan></text>
<text x="495.40" y="89.00" font-size="4.4" text-anchor="middle" fill="#707070">10<tspan font-size="3.0" dy="-1.9">0</tspan></text>
<text x="510.10" y="89.00" font-size="4.4" text-anchor="middle" fill="#707070">10<tspan font-size="3.0" dy="-1.9">2</tspan></text>
<text x="478.70" y="99.20" font-size="6.2" text-anchor="middle" fill="#262626" stroke="#262626" stroke-width="0.1" textLength="51" lengthAdjust="spacingAndGlyphs">TCB concentration [nM]</text>
<text x="426.80" y="56.60" font-size="5.9" text-anchor="middle" fill="#262626" stroke="#262626" stroke-width="0.1" textLength="39" lengthAdjust="spacingAndGlyphs" transform="rotate(-90 426.80 56.60)">CD8+CD25+ [%]</text>
<path d="M492.90 77.42 L500.30 77.42 L507.70 77.42" fill="none" stroke="#484c58" stroke-width="0.95" stroke-linejoin="round"/>
<path d="M492.90 76.66 L500.30 76.66 L507.70 76.66" fill="none" stroke="#40a8d8" stroke-width="0.95" stroke-linejoin="round"/>
<path d="M492.90 76.09 L500.30 76.09 L507.70 76.09" fill="none" stroke="#2f9e4c" stroke-width="0.95" stroke-linejoin="round"/>
<path d="M492.90 79.32 L500.30 79.32 L507.70 79.32" fill="none" stroke="#d8304e" stroke-width="0.95" stroke-linejoin="round"/>
<circle cx="492.90" cy="77.42" r="1.1" fill="#333"/>
<circle cx="500.30" cy="77.42" r="1.1" fill="#333"/>
<circle cx="507.70" cy="77.42" r="1.1" fill="#333"/>
<line x1="492.50" y1="73.57" x2="492.50" y2="78.43" stroke="#333" stroke-width="0.7"/>
<line x1="500.50" y1="73.57" x2="500.50" y2="78.43" stroke="#333" stroke-width="0.7"/>
<line x1="507.50" y1="73.57" x2="507.50" y2="78.43" stroke="#333" stroke-width="0.7"/>
<text x="13.60" y="57.00" font-size="6.2" text-anchor="middle" fill="#222" stroke="#222" stroke-width="0.1" textLength="53.5" lengthAdjust="spacingAndGlyphs" transform="rotate(-90 13.60 57.00)">CD25+ in CD8 [%]</text>
<line x1="41.50" y1="118.60" x2="41.50" y2="164.60" stroke="#1a1a1a" stroke-width="0.9"/>
<line x1="41.10" y1="164.50" x2="109.00" y2="164.50" stroke="#1a1a1a" stroke-width="0.9"/>
<line x1="39.70" y1="164.50" x2="41.50" y2="164.50" stroke="#1a1a1a" stroke-width="0.7"/>
<text x="37.50" y="165.80" font-size="4.6" text-anchor="end" fill="#707070">0</text>
<line x1="39.70" y1="155.50" x2="41.50" y2="155.50" stroke="#1a1a1a" stroke-width="0.7"/>
<text x="37.50" y="157.24" font-size="4.6" text-anchor="end" fill="#707070">20</text>
<line x1="39.70" y1="147.50" x2="41.50" y2="147.50" stroke="#1a1a1a" stroke-width="0.7"/>
<text x="37.50" y="148.68" font-size="4.6" text-anchor="end" fill="#707070">40</text>
<line x1="39.70" y1="138.50" x2="41.50" y2="138.50" stroke="#1a1a1a" stroke-width="0.7"/>
<text x="37.50" y="140.12" font-size="4.6" text-anchor="end" fill="#707070">60</text>
<line x1="39.70" y1="129.50" x2="41.50" y2="129.50" stroke="#1a1a1a" stroke-width="0.7"/>
<text x="37.50" y="131.56" font-size="4.6" text-anchor="end" fill="#707070">80</text>
<line x1="39.70" y1="121.50" x2="41.50" y2="121.50" stroke="#1a1a1a" stroke-width="0.7"/>
<text x="37.50" y="123.00" font-size="4.6" text-anchor="end" fill="#707070">100</text>
<line x1="48.50" y1="164.20" x2="48.50" y2="165.80" stroke="#1a1a1a" stroke-width="0.6"/>
<line x1="63.50" y1="164.20" x2="63.50" y2="165.80" stroke="#1a1a1a" stroke-width="0.6"/>
<line x1="78.50" y1="164.20" x2="78.50" y2="165.80" stroke="#1a1a1a" stroke-width="0.6"/>
<line x1="93.50" y1="164.20" x2="93.50" y2="165.80" stroke="#1a1a1a" stroke-width="0.6"/>
<line x1="107.50" y1="164.20" x2="107.50" y2="165.80" stroke="#1a1a1a" stroke-width="0.6"/>
<line x1="43.50" y1="164.20" x2="43.50" y2="165.20" stroke="#666" stroke-width="0.35"/>
<line x1="45.50" y1="164.20" x2="45.50" y2="165.20" stroke="#666" stroke-width="0.35"/>
<line x1="47.50" y1="164.20" x2="47.50" y2="165.20" stroke="#666" stroke-width="0.35"/>
<line x1="50.50" y1="164.20" x2="50.50" y2="165.20" stroke="#666" stroke-width="0.35"/>
<line x1="52.50" y1="164.20" x2="52.50" y2="165.20" stroke="#666" stroke-width="0.35"/>
<line x1="54.50" y1="164.20" x2="54.50" y2="165.20" stroke="#666" stroke-width="0.35"/>
<line x1="56.50" y1="164.20" x2="56.50" y2="165.20" stroke="#666" stroke-width="0.35"/>
<line x1="58.50" y1="164.20" x2="58.50" y2="165.20" stroke="#666" stroke-width="0.35"/>
<line x1="61.50" y1="164.20" x2="61.50" y2="165.20" stroke="#666" stroke-width="0.35"/>
<line x1="63.50" y1="164.20" x2="63.50" y2="165.20" stroke="#666" stroke-width="0.35"/>
<line x1="65.50" y1="164.20" x2="65.50" y2="165.20" stroke="#666" stroke-width="0.35"/>
<line x1="67.50" y1="164.20" x2="67.50" y2="165.20" stroke="#666" stroke-width="0.35"/>
<line x1="69.50" y1="164.20" x2="69.50" y2="165.20" stroke="#666" stroke-width="0.35"/>
<line x1="72.50" y1="164.20" x2="72.50" y2="165.20" stroke="#666" stroke-width="0.35"/>
<line x1="74.50" y1="164.20" x2="74.50" y2="165.20" stroke="#666" stroke-width="0.35"/>
<line x1="76.50" y1="164.20" x2="76.50" y2="165.20" stroke="#666" stroke-width="0.35"/>
<line x1="78.50" y1="164.20" x2="78.50" y2="165.20" stroke="#666" stroke-width="0.35"/>
<line x1="80.50" y1="164.20" x2="80.50" y2="165.20" stroke="#666" stroke-width="0.35"/>
<line x1="83.50" y1="164.20" x2="83.50" y2="165.20" stroke="#666" stroke-width="0.35"/>
<line x1="85.50" y1="164.20" x2="85.50" y2="165.20" stroke="#666" stroke-width="0.35"/>
<line x1="87.50" y1="164.20" x2="87.50" y2="165.20" stroke="#666" stroke-width="0.35"/>
<line x1="89.50" y1="164.20" x2="89.50" y2="165.20" stroke="#666" stroke-width="0.35"/>
<line x1="91.50" y1="164.20" x2="91.50" y2="165.20" stroke="#666" stroke-width="0.35"/>
<line x1="94.50" y1="164.20" x2="94.50" y2="165.20" stroke="#666" stroke-width="0.35"/>
<line x1="96.50" y1="164.20" x2="96.50" y2="165.20" stroke="#666" stroke-width="0.35"/>
<line x1="98.50" y1="164.20" x2="98.50" y2="165.20" stroke="#666" stroke-width="0.35"/>
<line x1="100.50" y1="164.20" x2="100.50" y2="165.20" stroke="#666" stroke-width="0.35"/>
<line x1="102.50" y1="164.20" x2="102.50" y2="165.20" stroke="#666" stroke-width="0.35"/>
<line x1="105.50" y1="164.20" x2="105.50" y2="165.20" stroke="#666" stroke-width="0.35"/>
<line x1="107.50" y1="164.20" x2="107.50" y2="165.20" stroke="#666" stroke-width="0.35"/>
<text x="49.60" y="173.00" font-size="4.4" text-anchor="middle" fill="#707070">10<tspan font-size="3.0" dy="-1.9">−6</tspan></text>
<text x="64.30" y="173.00" font-size="4.4" text-anchor="middle" fill="#707070">10<tspan font-size="3.0" dy="-1.9">−4</tspan></text>
<text x="79.00" y="173.00" font-size="4.4" text-anchor="middle" fill="#707070">10<tspan font-size="3.0" dy="-1.9">−2</tspan></text>
<text x="93.70" y="173.00" font-size="4.4" text-anchor="middle" fill="#707070">10<tspan font-size="3.0" dy="-1.9">0</tspan></text>
<text x="108.40" y="173.00" font-size="4.4" text-anchor="middle" fill="#707070">10<tspan font-size="3.0" dy="-1.9">2</tspan></text>
<text x="77.00" y="183.20" font-size="6.2" text-anchor="middle" fill="#262626" stroke="#262626" stroke-width="0.1" textLength="51" lengthAdjust="spacingAndGlyphs">TCB concentration [nM]</text>
<text x="25.10" y="140.60" font-size="5.9" text-anchor="middle" fill="#262626" stroke="#262626" stroke-width="0.1" textLength="39" lengthAdjust="spacingAndGlyphs" transform="rotate(-90 25.10 140.60)">CD8+CD69+ [%]</text>
<path d="M91.20 157.87 L98.60 154.92 L106.00 141.41" fill="none" stroke="#484c58" stroke-width="0.95" stroke-linejoin="round"/>
<path d="M46.80 158.50 L48.15 158.50 L49.49 158.50 L50.84 158.50 L52.18 158.50 L53.53 158.50 L54.87 158.50 L56.22 158.49 L57.56 158.49 L58.91 158.49 L60.25 158.49 L61.60 158.48 L62.95 158.47 L64.29 158.45 L65.64 158.42 L66.98 158.38 L68.33 158.30 L69.67 158.17 L71.02 157.96 L72.36 157.61 L73.71 157.06 L75.05 156.18 L76.40 154.85 L77.75 152.91 L79.09 150.28 L80.44 147.01 L81.78 143.41 L83.13 139.89 L84.47 136.85 L85.82 134.49 L87.16 132.80 L88.51 131.66 L89.85 130.93 L91.20 130.47 L92.55 130.18 L93.89 130.01 L95.24 129.90 L96.58 129.84 L97.93 129.80 L99.27 129.77 L100.62 129.76 L101.96 129.75 L103.31 129.74 L104.65 129.74 L106.00 129.74" fill="none" stroke="#40a8d8" stroke-width="0.95" stroke-linejoin="round"/>
<path d="M46.80 158.47 L48.15 158.47 L49.49 158.46 L50.84 158.46 L52.18 158.46 L53.53 158.46 L54.87 158.45 L56.22 158.44 L57.56 158.42 L58.91 158.40 L60.25 158.36 L61.60 158.30 L62.95 158.20 L64.29 158.04 L65.64 157.80 L66.98 157.42 L68.33 156.84 L69.67 155.97 L71.02 154.69 L72.36 152.91 L73.71 150.55 L75.05 147.67 L76.40 144.45 L77.75 141.20 L79.09 138.26 L80.44 135.82 L81.78 133.96 L83.13 132.63 L84.47 131.71 L85.82 131.09 L87.16 130.69 L88.51 130.43 L89.85 130.26 L91.20 130.16 L92.55 130.09 L93.89 130.05 L95.24 130.02 L96.58 130.01 L97.93 130.00 L99.27 129.99 L100.62 129.99 L101.96 129.98 L103.31 129.98 L104.65 129.98 L106.00 129.98" fill="none" stroke="#2f9e4c" stroke-width="0.95" stroke-linejoin="round"/>
<path d="M46.80 157.06 L48.15 157.02 L49.49 156.98 L50.84 156.90 L52.18 156.79 L53.53 156.61 L54.87 156.35 L56.22 155.96 L57.56 155.38 L58.91 154.53 L60.25 153.32 L61.60 151.66 L62.95 149.47 L64.29 146.76 L65.64 143.65 L66.98 140.39 L68.33 137.24 L69.67 134.46 L71.02 132.19 L72.36 130.45 L73.71 129.17 L75.05 128.28 L76.40 127.66 L77.75 127.24 L79.09 126.97 L80.44 126.78 L81.78 126.66 L83.13 126.58 L84.47 126.53 L85.82 126.49 L87.16 126.47 L88.51 126.46 L89.85 126.45 L91.20 126.44 L92.55 126.44 L93.89 126.44 L95.24 126.43 L96.58 126.43 L97.93 126.43 L99.27 126.43 L100.62 126.43 L101.96 126.43 L103.31 126.43 L104.65 126.43 L106.00 126.43" fill="none" stroke="#d8304e" stroke-width="0.95" stroke-linejoin="round"/>
<circle cx="91.20" cy="157.87" r="1.0" fill="none" stroke="#3a3e4c" stroke-width="0.8"/>
<circle cx="98.60" cy="154.92" r="1.0" fill="none" stroke="#3a3e4c" stroke-width="0.8"/>
<circle cx="106.00" cy="141.41" r="1.0" fill="none" stroke="#3a3e4c" stroke-width="0.8"/>
<path d="M46.80 157.07 L48.10 159.32 L45.50 159.32 Z" fill="#2f94c8"/>
<path d="M54.20 157.07 L55.50 159.32 L52.90 159.32 Z" fill="#2f94c8"/>
<path d="M61.60 157.07 L62.90 159.32 L60.30 159.32 Z" fill="#2f94c8"/>
<path d="M69.00 157.07 L70.30 159.32 L67.70 159.32 Z" fill="#2f94c8"/>
<path d="M76.40 153.57 L77.70 155.81 L75.10 155.81 Z" fill="#2f94c8"/>
<path d="M83.80 136.86 L85.10 139.10 L82.50 139.10 Z" fill="#2f94c8"/>
<path d="M91.20 129.52 L92.50 131.76 L89.90 131.76 Z" fill="#2f94c8"/>
<path d="M98.60 128.67 L99.90 130.91 L97.30 130.91 Z" fill="#2f94c8"/>
<path d="M106.00 127.83 L107.30 130.07 L104.70 130.07 Z" fill="#2f94c8"/>
<rect x="45.62" y="157.24" width="2.36" height="2.36" fill="#1f8a3a"/>
<rect x="53.02" y="157.24" width="2.36" height="2.36" fill="#1f8a3a"/>
<rect x="60.42" y="157.24" width="2.36" height="2.36" fill="#1f8a3a"/>
<rect x="67.82" y="155.21" width="2.36" height="2.36" fill="#1f8a3a"/>
<rect x="75.22" y="143.31" width="2.36" height="2.36" fill="#1f8a3a"/>
<rect x="82.62" y="130.74" width="2.36" height="2.36" fill="#1f8a3a"/>
<rect x="90.02" y="129.94" width="2.36" height="2.36" fill="#1f8a3a"/>
<rect x="97.42" y="128.84" width="2.36" height="2.36" fill="#1f8a3a"/>
<rect x="104.82" y="127.99" width="2.36" height="2.36" fill="#1f8a3a"/>
<circle cx="46.80" cy="157.19" r="1.18" fill="#a3112f"/>
<circle cx="54.20" cy="156.39" r="1.18" fill="#a3112f"/>
<circle cx="61.60" cy="151.58" r="1.18" fill="#a3112f"/>
<circle cx="69.00" cy="135.93" r="1.18" fill="#a3112f"/>
<circle cx="76.40" cy="127.19" r="1.18" fill="#a3112f"/>
<circle cx="83.80" cy="127.06" r="1.18" fill="#a3112f"/>
<circle cx="91.20" cy="126.39" r="1.18" fill="#a3112f"/>
<circle cx="98.60" cy="126.39" r="1.18" fill="#a3112f"/>
<circle cx="106.00" cy="126.39" r="1.18" fill="#a3112f"/>
<line x1="138.50" y1="118.60" x2="138.50" y2="164.60" stroke="#1a1a1a" stroke-width="0.9"/>
<line x1="137.70" y1="164.50" x2="205.60" y2="164.50" stroke="#1a1a1a" stroke-width="0.9"/>
<line x1="136.30" y1="164.50" x2="138.10" y2="164.50" stroke="#1a1a1a" stroke-width="0.7"/>
<text x="134.10" y="165.80" font-size="4.6" text-anchor="end" fill="#707070">0</text>
<line x1="136.30" y1="155.50" x2="138.10" y2="155.50" stroke="#1a1a1a" stroke-width="0.7"/>
<text x="134.10" y="157.24" font-size="4.6" text-anchor="end" fill="#707070">20</text>
<line x1="136.30" y1="147.50" x2="138.10" y2="147.50" stroke="#1a1a1a" stroke-width="0.7"/>
<text x="134.10" y="148.68" font-size="4.6" text-anchor="end" fill="#707070">40</text>
<line x1="136.30" y1="138.50" x2="138.10" y2="138.50" stroke="#1a1a1a" stroke-width="0.7"/>
<text x="134.10" y="140.12" font-size="4.6" text-anchor="end" fill="#707070">60</text>
<line x1="136.30" y1="129.50" x2="138.10" y2="129.50" stroke="#1a1a1a" stroke-width="0.7"/>
<text x="134.10" y="131.56" font-size="4.6" text-anchor="end" fill="#707070">80</text>
<line x1="136.30" y1="121.50" x2="138.10" y2="121.50" stroke="#1a1a1a" stroke-width="0.7"/>
<text x="134.10" y="123.00" font-size="4.6" text-anchor="end" fill="#707070">100</text>
<line x1="145.50" y1="164.20" x2="145.50" y2="165.80" stroke="#1a1a1a" stroke-width="0.6"/>
<line x1="160.50" y1="164.20" x2="160.50" y2="165.80" stroke="#1a1a1a" stroke-width="0.6"/>
<line x1="174.50" y1="164.20" x2="174.50" y2="165.80" stroke="#1a1a1a" stroke-width="0.6"/>
<line x1="189.50" y1="164.20" x2="189.50" y2="165.80" stroke="#1a1a1a" stroke-width="0.6"/>
<line x1="204.50" y1="164.20" x2="204.50" y2="165.80" stroke="#1a1a1a" stroke-width="0.6"/>
<line x1="140.50" y1="164.20" x2="140.50" y2="165.20" stroke="#666" stroke-width="0.35"/>
<line x1="142.50" y1="164.20" x2="142.50" y2="165.20" stroke="#666" stroke-width="0.35"/>
<line x1="144.50" y1="164.20" x2="144.50" y2="165.20" stroke="#666" stroke-width="0.35"/>
<line x1="146.50" y1="164.20" x2="146.50" y2="165.20" stroke="#666" stroke-width="0.35"/>
<line x1="148.50" y1="164.20" x2="148.50" y2="165.20" stroke="#666" stroke-width="0.35"/>
<line x1="151.50" y1="164.20" x2="151.50" y2="165.20" stroke="#666" stroke-width="0.35"/>
<line x1="153.50" y1="164.20" x2="153.50" y2="165.20" stroke="#666" stroke-width="0.35"/>
<line x1="155.50" y1="164.20" x2="155.50" y2="165.20" stroke="#666" stroke-width="0.35"/>
<line x1="157.50" y1="164.20" x2="157.50" y2="165.20" stroke="#666" stroke-width="0.35"/>
<line x1="159.50" y1="164.20" x2="159.50" y2="165.20" stroke="#666" stroke-width="0.35"/>
<line x1="162.50" y1="164.20" x2="162.50" y2="165.20" stroke="#666" stroke-width="0.35"/>
<line x1="164.50" y1="164.20" x2="164.50" y2="165.20" stroke="#666" stroke-width="0.35"/>
<line x1="166.50" y1="164.20" x2="166.50" y2="165.20" stroke="#666" stroke-width="0.35"/>
<line x1="168.50" y1="164.20" x2="168.50" y2="165.20" stroke="#666" stroke-width="0.35"/>
<line x1="170.50" y1="164.20" x2="170.50" y2="165.20" stroke="#666" stroke-width="0.35"/>
<line x1="173.50" y1="164.20" x2="173.50" y2="165.20" stroke="#666" stroke-width="0.35"/>
<line x1="175.50" y1="164.20" x2="175.50" y2="165.20" stroke="#666" stroke-width="0.35"/>
<line x1="177.50" y1="164.20" x2="177.50" y2="165.20" stroke="#666" stroke-width="0.35"/>
<line x1="179.50" y1="164.20" x2="179.50" y2="165.20" stroke="#666" stroke-width="0.35"/>
<line x1="181.50" y1="164.20" x2="181.50" y2="165.20" stroke="#666" stroke-width="0.35"/>
<line x1="184.50" y1="164.20" x2="184.50" y2="165.20" stroke="#666" stroke-width="0.35"/>
<line x1="186.50" y1="164.20" x2="186.50" y2="165.20" stroke="#666" stroke-width="0.35"/>
<line x1="188.50" y1="164.20" x2="188.50" y2="165.20" stroke="#666" stroke-width="0.35"/>
<line x1="190.50" y1="164.20" x2="190.50" y2="165.20" stroke="#666" stroke-width="0.35"/>
<line x1="192.50" y1="164.20" x2="192.50" y2="165.20" stroke="#666" stroke-width="0.35"/>
<line x1="195.50" y1="164.20" x2="195.50" y2="165.20" stroke="#666" stroke-width="0.35"/>
<line x1="197.50" y1="164.20" x2="197.50" y2="165.20" stroke="#666" stroke-width="0.35"/>
<line x1="199.50" y1="164.20" x2="199.50" y2="165.20" stroke="#666" stroke-width="0.35"/>
<line x1="201.50" y1="164.20" x2="201.50" y2="165.20" stroke="#666" stroke-width="0.35"/>
<line x1="203.50" y1="164.20" x2="203.50" y2="165.20" stroke="#666" stroke-width="0.35"/>
<text x="146.20" y="173.00" font-size="4.4" text-anchor="middle" fill="#707070">10<tspan font-size="3.0" dy="-1.9">−6</tspan></text>
<text x="160.90" y="173.00" font-size="4.4" text-anchor="middle" fill="#707070">10<tspan font-size="3.0" dy="-1.9">−4</tspan></text>
<text x="175.60" y="173.00" font-size="4.4" text-anchor="middle" fill="#707070">10<tspan font-size="3.0" dy="-1.9">−2</tspan></text>
<text x="190.30" y="173.00" font-size="4.4" text-anchor="middle" fill="#707070">10<tspan font-size="3.0" dy="-1.9">0</tspan></text>
<text x="205.00" y="173.00" font-size="4.4" text-anchor="middle" fill="#707070">10<tspan font-size="3.0" dy="-1.9">2</tspan></text>
<text x="173.60" y="183.20" font-size="6.2" text-anchor="middle" fill="#262626" stroke="#262626" stroke-width="0.1" textLength="51" lengthAdjust="spacingAndGlyphs">TCB concentration [nM]</text>
<text x="121.70" y="140.60" font-size="5.9" text-anchor="middle" fill="#262626" stroke="#262626" stroke-width="0.1" textLength="39" lengthAdjust="spacingAndGlyphs" transform="rotate(-90 121.70 140.60)">CD8+CD69+ [%]</text>
<path d="M187.80 155.08 L195.20 151.96 L202.60 140.31" fill="none" stroke="#484c58" stroke-width="0.95" stroke-linejoin="round"/>
<path d="M143.40 156.01 L144.75 156.01 L146.09 156.01 L147.44 156.01 L148.78 156.01 L150.13 156.01 L151.47 156.01 L152.82 156.01 L154.16 156.01 L155.51 156.01 L156.85 156.01 L158.20 156.01 L159.55 156.01 L160.89 156.01 L162.24 156.01 L163.58 156.01 L164.93 156.01 L166.27 156.01 L167.62 155.99 L168.96 155.93 L170.31 155.73 L171.65 155.10 L173.00 153.23 L174.35 148.50 L175.69 140.39 L177.04 132.69 L178.38 128.55 L179.73 126.97 L181.07 126.45 L182.42 126.29 L183.76 126.24 L185.11 126.23 L186.45 126.22 L187.80 126.22 L189.15 126.22 L190.49 126.22 L191.84 126.22 L193.18 126.22 L194.53 126.22 L195.87 126.22 L197.22 126.22 L198.56 126.22 L199.91 126.22 L201.25 126.22 L202.60 126.22" fill="none" stroke="#40a8d8" stroke-width="0.95" stroke-linejoin="round"/>
<path d="M143.40 156.02 L144.75 156.02 L146.09 156.02 L147.44 156.02 L148.78 156.02 L150.13 156.02 L151.47 156.02 L152.82 156.02 L154.16 156.02 L155.51 156.02 L156.85 156.02 L158.20 156.02 L159.55 156.02 L160.89 156.02 L162.24 156.02 L163.58 156.01 L164.93 156.00 L166.27 155.97 L167.62 155.86 L168.96 155.54 L170.31 154.62 L171.65 152.19 L173.00 146.90 L174.35 139.07 L175.69 132.25 L177.04 128.55 L178.38 127.04 L179.73 126.50 L181.07 126.32 L182.42 126.25 L183.76 126.23 L185.11 126.22 L186.45 126.22 L187.80 126.22 L189.15 126.22 L190.49 126.22 L191.84 126.22 L193.18 126.22 L194.53 126.22 L195.87 126.22 L197.22 126.22 L198.56 126.22 L199.91 126.22 L201.25 126.22 L202.60 126.22" fill="none" stroke="#2f9e4c" stroke-width="0.95" stroke-linejoin="round"/>
<path d="M143.40 151.92 L144.75 151.91 L146.09 151.89 L147.44 151.86 L148.78 151.81 L150.13 151.73 L151.47 151.60 L152.82 151.40 L154.16 151.08 L155.51 150.57 L156.85 149.79 L158.20 148.63 L159.55 146.98 L160.89 144.76 L162.24 142.02 L163.58 138.96 L164.93 135.90 L166.27 133.17 L167.62 130.97 L168.96 129.33 L170.31 128.18 L171.65 127.41 L173.00 126.91 L174.35 126.59 L175.69 126.39 L177.04 126.27 L178.38 126.19 L179.73 126.14 L181.07 126.11 L182.42 126.09 L183.76 126.08 L185.11 126.07 L186.45 126.07 L187.80 126.07 L189.15 126.06 L190.49 126.06 L191.84 126.06 L193.18 126.06 L194.53 126.06 L195.87 126.06 L197.22 126.06 L198.56 126.06 L199.91 126.06 L201.25 126.06 L202.60 126.06" fill="none" stroke="#d8304e" stroke-width="0.95" stroke-linejoin="round"/>
<circle cx="187.80" cy="155.08" r="1.0" fill="none" stroke="#3a3e4c" stroke-width="0.8"/>
<circle cx="195.20" cy="151.96" r="1.0" fill="none" stroke="#3a3e4c" stroke-width="0.8"/>
<circle cx="202.60" cy="140.31" r="1.0" fill="none" stroke="#3a3e4c" stroke-width="0.8"/>
<path d="M143.40 154.67 L144.70 156.91 L142.10 156.91 Z" fill="#2f94c8"/>
<path d="M150.80 154.67 L152.10 156.91 L149.50 156.91 Z" fill="#2f94c8"/>
<path d="M158.20 154.67 L159.50 156.91 L156.90 156.91 Z" fill="#2f94c8"/>
<path d="M165.60 154.67 L166.90 156.91 L164.30 156.91 Z" fill="#2f94c8"/>
<path d="M173.00 151.88 L174.30 154.12 L171.70 154.12 Z" fill="#2f94c8"/>
<path d="M180.40 125.30 L181.70 127.54 L179.10 127.54 Z" fill="#2f94c8"/>
<path d="M187.80 124.87 L189.10 127.12 L186.50 127.12 Z" fill="#2f94c8"/>
<path d="M195.20 124.87 L196.50 127.12 L193.90 127.12 Z" fill="#2f94c8"/>
<path d="M202.60 124.87 L203.90 127.12 L201.30 127.12 Z" fill="#2f94c8"/>
<rect x="142.22" y="154.83" width="2.36" height="2.36" fill="#1f8a3a"/>
<rect x="149.62" y="154.83" width="2.36" height="2.36" fill="#1f8a3a"/>
<rect x="157.02" y="154.83" width="2.36" height="2.36" fill="#1f8a3a"/>
<rect x="164.42" y="154.83" width="2.36" height="2.36" fill="#1f8a3a"/>
<rect x="171.82" y="145.72" width="2.36" height="2.36" fill="#1f8a3a"/>
<rect x="179.22" y="125.21" width="2.36" height="2.36" fill="#1f8a3a"/>
<rect x="186.62" y="125.04" width="2.36" height="2.36" fill="#1f8a3a"/>
<rect x="194.02" y="125.04" width="2.36" height="2.36" fill="#1f8a3a"/>
<rect x="201.42" y="125.04" width="2.36" height="2.36" fill="#1f8a3a"/>
<circle cx="143.40" cy="152.38" r="1.18" fill="#a3112f"/>
<circle cx="150.80" cy="151.29" r="1.18" fill="#a3112f"/>
<circle cx="158.20" cy="148.50" r="1.18" fill="#a3112f"/>
<circle cx="165.60" cy="134.66" r="1.18" fill="#a3112f"/>
<circle cx="173.00" cy="126.22" r="1.18" fill="#a3112f"/>
<circle cx="180.40" cy="126.22" r="1.18" fill="#a3112f"/>
<circle cx="187.80" cy="126.22" r="1.18" fill="#a3112f"/>
<circle cx="195.20" cy="126.22" r="1.18" fill="#a3112f"/>
<circle cx="202.60" cy="126.22" r="1.18" fill="#a3112f"/>
<line x1="240.50" y1="118.60" x2="240.50" y2="164.60" stroke="#1a1a1a" stroke-width="0.9"/>
<line x1="239.80" y1="164.50" x2="307.70" y2="164.50" stroke="#1a1a1a" stroke-width="0.9"/>
<line x1="238.40" y1="164.50" x2="240.20" y2="164.50" stroke="#1a1a1a" stroke-width="0.7"/>
<text x="236.20" y="165.80" font-size="4.6" text-anchor="end" fill="#707070">0</text>
<line x1="238.40" y1="155.50" x2="240.20" y2="155.50" stroke="#1a1a1a" stroke-width="0.7"/>
<text x="236.20" y="157.24" font-size="4.6" text-anchor="end" fill="#707070">20</text>
<line x1="238.40" y1="147.50" x2="240.20" y2="147.50" stroke="#1a1a1a" stroke-width="0.7"/>
<text x="236.20" y="148.68" font-size="4.6" text-anchor="end" fill="#707070">40</text>
<line x1="238.40" y1="138.50" x2="240.20" y2="138.50" stroke="#1a1a1a" stroke-width="0.7"/>
<text x="236.20" y="140.12" font-size="4.6" text-anchor="end" fill="#707070">60</text>
<line x1="238.40" y1="129.50" x2="240.20" y2="129.50" stroke="#1a1a1a" stroke-width="0.7"/>
<text x="236.20" y="131.56" font-size="4.6" text-anchor="end" fill="#707070">80</text>
<line x1="238.40" y1="121.50" x2="240.20" y2="121.50" stroke="#1a1a1a" stroke-width="0.7"/>
<text x="236.20" y="123.00" font-size="4.6" text-anchor="end" fill="#707070">100</text>
<line x1="247.50" y1="164.20" x2="247.50" y2="165.80" stroke="#1a1a1a" stroke-width="0.6"/>
<line x1="262.50" y1="164.20" x2="262.50" y2="165.80" stroke="#1a1a1a" stroke-width="0.6"/>
<line x1="277.50" y1="164.20" x2="277.50" y2="165.80" stroke="#1a1a1a" stroke-width="0.6"/>
<line x1="291.50" y1="164.20" x2="291.50" y2="165.80" stroke="#1a1a1a" stroke-width="0.6"/>
<line x1="306.50" y1="164.20" x2="306.50" y2="165.80" stroke="#1a1a1a" stroke-width="0.6"/>
<line x1="242.50" y1="164.20" x2="242.50" y2="165.20" stroke="#666" stroke-width="0.35"/>
<line x1="244.50" y1="164.20" x2="244.50" y2="165.20" stroke="#666" stroke-width="0.35"/>
<line x1="246.50" y1="164.20" x2="246.50" y2="165.20" stroke="#666" stroke-width="0.35"/>
<line x1="248.50" y1="164.20" x2="248.50" y2="165.20" stroke="#666" stroke-width="0.35"/>
<line x1="251.50" y1="164.20" x2="251.50" y2="165.20" stroke="#666" stroke-width="0.35"/>
<line x1="253.50" y1="164.20" x2="253.50" y2="165.20" stroke="#666" stroke-width="0.35"/>
<line x1="255.50" y1="164.20" x2="255.50" y2="165.20" stroke="#666" stroke-width="0.35"/>
<line x1="257.50" y1="164.20" x2="257.50" y2="165.20" stroke="#666" stroke-width="0.35"/>
<line x1="259.50" y1="164.20" x2="259.50" y2="165.20" stroke="#666" stroke-width="0.35"/>
<line x1="262.50" y1="164.20" x2="262.50" y2="165.20" stroke="#666" stroke-width="0.35"/>
<line x1="264.50" y1="164.20" x2="264.50" y2="165.20" stroke="#666" stroke-width="0.35"/>
<line x1="266.50" y1="164.20" x2="266.50" y2="165.20" stroke="#666" stroke-width="0.35"/>
<line x1="268.50" y1="164.20" x2="268.50" y2="165.20" stroke="#666" stroke-width="0.35"/>
<line x1="270.50" y1="164.20" x2="270.50" y2="165.20" stroke="#666" stroke-width="0.35"/>
<line x1="273.50" y1="164.20" x2="273.50" y2="165.20" stroke="#666" stroke-width="0.35"/>
<line x1="275.50" y1="164.20" x2="275.50" y2="165.20" stroke="#666" stroke-width="0.35"/>
<line x1="277.50" y1="164.20" x2="277.50" y2="165.20" stroke="#666" stroke-width="0.35"/>
<line x1="279.50" y1="164.20" x2="279.50" y2="165.20" stroke="#666" stroke-width="0.35"/>
<line x1="281.50" y1="164.20" x2="281.50" y2="165.20" stroke="#666" stroke-width="0.35"/>
<line x1="284.50" y1="164.20" x2="284.50" y2="165.20" stroke="#666" stroke-width="0.35"/>
<line x1="286.50" y1="164.20" x2="286.50" y2="165.20" stroke="#666" stroke-width="0.35"/>
<line x1="288.50" y1="164.20" x2="288.50" y2="165.20" stroke="#666" stroke-width="0.35"/>
<line x1="290.50" y1="164.20" x2="290.50" y2="165.20" stroke="#666" stroke-width="0.35"/>
<line x1="292.50" y1="164.20" x2="292.50" y2="165.20" stroke="#666" stroke-width="0.35"/>
<line x1="295.50" y1="164.20" x2="295.50" y2="165.20" stroke="#666" stroke-width="0.35"/>
<line x1="297.50" y1="164.20" x2="297.50" y2="165.20" stroke="#666" stroke-width="0.35"/>
<line x1="299.50" y1="164.20" x2="299.50" y2="165.20" stroke="#666" stroke-width="0.35"/>
<line x1="301.50" y1="164.20" x2="301.50" y2="165.20" stroke="#666" stroke-width="0.35"/>
<line x1="303.50" y1="164.20" x2="303.50" y2="165.20" stroke="#666" stroke-width="0.35"/>
<line x1="306.50" y1="164.20" x2="306.50" y2="165.20" stroke="#666" stroke-width="0.35"/>
<text x="248.30" y="173.00" font-size="4.4" text-anchor="middle" fill="#707070">10<tspan font-size="3.0" dy="-1.9">−6</tspan></text>
<text x="263.00" y="173.00" font-size="4.4" text-anchor="middle" fill="#707070">10<tspan font-size="3.0" dy="-1.9">−4</tspan></text>
<text x="277.70" y="173.00" font-size="4.4" text-anchor="middle" fill="#707070">10<tspan font-size="3.0" dy="-1.9">−2</tspan></text>
<text x="292.40" y="173.00" font-size="4.4" text-anchor="middle" fill="#707070">10<tspan font-size="3.0" dy="-1.9">0</tspan></text>
<text x="307.10" y="173.00" font-size="4.4" text-anchor="middle" fill="#707070">10<tspan font-size="3.0" dy="-1.9">2</tspan></text>
<text x="275.70" y="183.20" font-size="6.2" text-anchor="middle" fill="#262626" stroke="#262626" stroke-width="0.1" textLength="51" lengthAdjust="spacingAndGlyphs">TCB concentration [nM]</text>
<text x="223.80" y="140.60" font-size="5.9" text-anchor="middle" fill="#262626" stroke="#262626" stroke-width="0.1" textLength="39" lengthAdjust="spacingAndGlyphs" transform="rotate(-90 223.80 140.60)">CD8+CD69+ [%]</text>
<path d="M289.90 157.87 L297.30 157.19 L304.70 155.89" fill="none" stroke="#484c58" stroke-width="0.95" stroke-linejoin="round"/>
<path d="M245.50 157.26 L246.85 157.26 L248.19 157.26 L249.54 157.26 L250.88 157.26 L252.23 157.26 L253.57 157.26 L254.92 157.26 L256.26 157.26 L257.61 157.26 L258.95 157.26 L260.30 157.26 L261.65 157.26 L262.99 157.26 L264.34 157.26 L265.68 157.25 L267.03 157.25 L268.37 157.25 L269.72 157.25 L271.06 157.25 L272.41 157.24 L273.75 157.24 L275.10 157.22 L276.45 157.20 L277.79 157.17 L279.14 157.11 L280.48 157.00 L281.83 156.83 L283.17 156.55 L284.52 156.08 L285.86 155.33 L287.21 154.18 L288.55 152.48 L289.90 150.18 L291.25 147.35 L292.59 144.29 L293.94 141.41 L295.28 139.00 L296.63 137.20 L297.97 135.96 L299.32 135.16 L300.66 134.65 L302.01 134.34 L303.35 134.15 L304.70 134.04" fill="none" stroke="#40a8d8" stroke-width="0.95" stroke-linejoin="round"/>
<path d="M245.50 157.21 L246.85 157.21 L248.19 157.21 L249.54 157.21 L250.88 157.21 L252.23 157.21 L253.57 157.21 L254.92 157.21 L256.26 157.21 L257.61 157.21 L258.95 157.21 L260.30 157.21 L261.65 157.20 L262.99 157.19 L264.34 157.15 L265.68 157.06 L267.03 156.83 L268.37 156.24 L269.72 154.79 L271.06 151.62 L272.41 146.02 L273.75 139.11 L275.10 133.53 L276.45 130.38 L277.79 128.95 L279.14 128.36 L280.48 128.13 L281.83 128.04 L283.17 128.00 L284.52 127.99 L285.86 127.98 L287.21 127.98 L288.55 127.98 L289.90 127.98 L291.25 127.98 L292.59 127.98 L293.94 127.98 L295.28 127.98 L296.63 127.98 L297.97 127.98 L299.32 127.98 L300.66 127.98 L302.01 127.98 L303.35 127.98 L304.70 127.98" fill="none" stroke="#2f9e4c" stroke-width="0.95" stroke-linejoin="round"/>
<path d="M245.50 157.30 L246.85 157.30 L248.19 157.30 L249.54 157.30 L250.88 157.30 L252.23 157.30 L253.57 157.30 L254.92 157.30 L256.26 157.30 L257.61 157.30 L258.95 157.29 L260.30 157.29 L261.65 157.27 L262.99 157.25 L264.34 157.20 L265.68 157.12 L267.03 156.97 L268.37 156.69 L269.72 156.20 L271.06 155.35 L272.41 153.93 L273.75 151.70 L275.10 148.55 L276.45 144.71 L277.79 140.77 L279.14 137.36 L280.48 134.85 L281.83 133.19 L283.17 132.18 L284.52 131.60 L285.86 131.27 L287.21 131.09 L288.55 130.99 L289.90 130.93 L291.25 130.90 L292.59 130.89 L293.94 130.88 L295.28 130.87 L296.63 130.87 L297.97 130.87 L299.32 130.87 L300.66 130.87 L302.01 130.87 L303.35 130.87 L304.70 130.87" fill="none" stroke="#d8304e" stroke-width="0.95" stroke-linejoin="round"/>
<circle cx="289.90" cy="157.87" r="1.0" fill="none" stroke="#3a3e4c" stroke-width="0.8"/>
<circle cx="297.30" cy="157.19" r="1.0" fill="none" stroke="#3a3e4c" stroke-width="0.8"/>
<circle cx="304.70" cy="155.89" r="1.0" fill="none" stroke="#3a3e4c" stroke-width="0.8"/>
<path d="M245.50 155.85 L246.80 158.09 L244.20 158.09 Z" fill="#2f94c8"/>
<path d="M252.90 155.85 L254.20 158.09 L251.60 158.09 Z" fill="#2f94c8"/>
<path d="M260.30 155.85 L261.60 158.09 L259.00 158.09 Z" fill="#2f94c8"/>
<path d="M267.70 155.85 L269.00 158.09 L266.40 158.09 Z" fill="#2f94c8"/>
<path d="M275.10 155.85 L276.40 158.09 L273.80 158.09 Z" fill="#2f94c8"/>
<path d="M282.50 155.68 L283.80 157.92 L281.20 157.92 Z" fill="#2f94c8"/>
<path d="M289.90 148.76 L291.20 151.00 L288.60 151.00 Z" fill="#2f94c8"/>
<path d="M297.30 135.26 L298.60 137.50 L296.00 137.50 Z" fill="#2f94c8"/>
<path d="M304.70 132.64 L306.00 134.88 L303.40 134.88 Z" fill="#2f94c8"/>
<rect x="244.32" y="156.01" width="2.36" height="2.36" fill="#1f8a3a"/>
<rect x="251.72" y="156.01" width="2.36" height="2.36" fill="#1f8a3a"/>
<rect x="259.12" y="156.01" width="2.36" height="2.36" fill="#1f8a3a"/>
<rect x="266.52" y="155.47" width="2.36" height="2.36" fill="#1f8a3a"/>
<rect x="273.92" y="132.34" width="2.36" height="2.36" fill="#1f8a3a"/>
<rect x="281.32" y="127.61" width="2.36" height="2.36" fill="#1f8a3a"/>
<rect x="288.72" y="126.81" width="2.36" height="2.36" fill="#1f8a3a"/>
<rect x="296.12" y="126.81" width="2.36" height="2.36" fill="#1f8a3a"/>
<rect x="303.52" y="126.01" width="2.36" height="2.36" fill="#1f8a3a"/>
<circle cx="245.50" cy="157.19" r="1.18" fill="#a3112f"/>
<circle cx="252.90" cy="157.19" r="1.18" fill="#a3112f"/>
<circle cx="260.30" cy="157.19" r="1.18" fill="#a3112f"/>
<circle cx="267.70" cy="157.19" r="1.18" fill="#a3112f"/>
<circle cx="275.10" cy="148.50" r="1.18" fill="#a3112f"/>
<circle cx="282.50" cy="132.72" r="1.18" fill="#a3112f"/>
<circle cx="289.90" cy="130.86" r="1.18" fill="#a3112f"/>
<circle cx="297.30" cy="130.86" r="1.18" fill="#a3112f"/>
<circle cx="304.70" cy="130.86" r="1.18" fill="#a3112f"/>
<line x1="341.50" y1="118.60" x2="341.50" y2="164.60" stroke="#1a1a1a" stroke-width="0.9"/>
<line x1="341.40" y1="164.50" x2="409.30" y2="164.50" stroke="#1a1a1a" stroke-width="0.9"/>
<line x1="340.00" y1="164.50" x2="341.80" y2="164.50" stroke="#1a1a1a" stroke-width="0.7"/>
<text x="337.80" y="165.80" font-size="4.6" text-anchor="end" fill="#707070">0</text>
<line x1="340.00" y1="155.50" x2="341.80" y2="155.50" stroke="#1a1a1a" stroke-width="0.7"/>
<text x="337.80" y="157.24" font-size="4.6" text-anchor="end" fill="#707070">20</text>
<line x1="340.00" y1="147.50" x2="341.80" y2="147.50" stroke="#1a1a1a" stroke-width="0.7"/>
<text x="337.80" y="148.68" font-size="4.6" text-anchor="end" fill="#707070">40</text>
<line x1="340.00" y1="138.50" x2="341.80" y2="138.50" stroke="#1a1a1a" stroke-width="0.7"/>
<text x="337.80" y="140.12" font-size="4.6" text-anchor="end" fill="#707070">60</text>
<line x1="340.00" y1="129.50" x2="341.80" y2="129.50" stroke="#1a1a1a" stroke-width="0.7"/>
<text x="337.80" y="131.56" font-size="4.6" text-anchor="end" fill="#707070">80</text>
<line x1="340.00" y1="121.50" x2="341.80" y2="121.50" stroke="#1a1a1a" stroke-width="0.7"/>
<text x="337.80" y="123.00" font-size="4.6" text-anchor="end" fill="#707070">100</text>
<line x1="349.50" y1="164.20" x2="349.50" y2="165.80" stroke="#1a1a1a" stroke-width="0.6"/>
<line x1="363.50" y1="164.20" x2="363.50" y2="165.80" stroke="#1a1a1a" stroke-width="0.6"/>
<line x1="378.50" y1="164.20" x2="378.50" y2="165.80" stroke="#1a1a1a" stroke-width="0.6"/>
<line x1="393.50" y1="164.20" x2="393.50" y2="165.80" stroke="#1a1a1a" stroke-width="0.6"/>
<line x1="408.50" y1="164.20" x2="408.50" y2="165.80" stroke="#1a1a1a" stroke-width="0.6"/>
<line x1="343.50" y1="164.20" x2="343.50" y2="165.20" stroke="#666" stroke-width="0.35"/>
<line x1="346.50" y1="164.20" x2="346.50" y2="165.20" stroke="#666" stroke-width="0.35"/>
<line x1="348.50" y1="164.20" x2="348.50" y2="165.20" stroke="#666" stroke-width="0.35"/>
<line x1="350.50" y1="164.20" x2="350.50" y2="165.20" stroke="#666" stroke-width="0.35"/>
<line x1="352.50" y1="164.20" x2="352.50" y2="165.20" stroke="#666" stroke-width="0.35"/>
<line x1="354.50" y1="164.20" x2="354.50" y2="165.20" stroke="#666" stroke-width="0.35"/>
<line x1="357.50" y1="164.20" x2="357.50" y2="165.20" stroke="#666" stroke-width="0.35"/>
<line x1="359.50" y1="164.20" x2="359.50" y2="165.20" stroke="#666" stroke-width="0.35"/>
<line x1="361.50" y1="164.20" x2="361.50" y2="165.20" stroke="#666" stroke-width="0.35"/>
<line x1="363.50" y1="164.20" x2="363.50" y2="165.20" stroke="#666" stroke-width="0.35"/>
<line x1="365.50" y1="164.20" x2="365.50" y2="165.20" stroke="#666" stroke-width="0.35"/>
<line x1="368.50" y1="164.20" x2="368.50" y2="165.20" stroke="#666" stroke-width="0.35"/>
<line x1="370.50" y1="164.20" x2="370.50" y2="165.20" stroke="#666" stroke-width="0.35"/>
<line x1="372.50" y1="164.20" x2="372.50" y2="165.20" stroke="#666" stroke-width="0.35"/>
<line x1="374.50" y1="164.20" x2="374.50" y2="165.20" stroke="#666" stroke-width="0.35"/>
<line x1="376.50" y1="164.20" x2="376.50" y2="165.20" stroke="#666" stroke-width="0.35"/>
<line x1="379.50" y1="164.20" x2="379.50" y2="165.20" stroke="#666" stroke-width="0.35"/>
<line x1="381.50" y1="164.20" x2="381.50" y2="165.20" stroke="#666" stroke-width="0.35"/>
<line x1="383.50" y1="164.20" x2="383.50" y2="165.20" stroke="#666" stroke-width="0.35"/>
<line x1="385.50" y1="164.20" x2="385.50" y2="165.20" stroke="#666" stroke-width="0.35"/>
<line x1="387.50" y1="164.20" x2="387.50" y2="165.20" stroke="#666" stroke-width="0.35"/>
<line x1="390.50" y1="164.20" x2="390.50" y2="165.20" stroke="#666" stroke-width="0.35"/>
<line x1="392.50" y1="164.20" x2="392.50" y2="165.20" stroke="#666" stroke-width="0.35"/>
<line x1="394.50" y1="164.20" x2="394.50" y2="165.20" stroke="#666" stroke-width="0.35"/>
<line x1="396.50" y1="164.20" x2="396.50" y2="165.20" stroke="#666" stroke-width="0.35"/>
<line x1="398.50" y1="164.20" x2="398.50" y2="165.20" stroke="#666" stroke-width="0.35"/>
<line x1="401.50" y1="164.20" x2="401.50" y2="165.20" stroke="#666" stroke-width="0.35"/>
<line x1="403.50" y1="164.20" x2="403.50" y2="165.20" stroke="#666" stroke-width="0.35"/>
<line x1="405.50" y1="164.20" x2="405.50" y2="165.20" stroke="#666" stroke-width="0.35"/>
<line x1="407.50" y1="164.20" x2="407.50" y2="165.20" stroke="#666" stroke-width="0.35"/>
<text x="349.90" y="173.00" font-size="4.4" text-anchor="middle" fill="#707070">10<tspan font-size="3.0" dy="-1.9">−6</tspan></text>
<text x="364.60" y="173.00" font-size="4.4" text-anchor="middle" fill="#707070">10<tspan font-size="3.0" dy="-1.9">−4</tspan></text>
<text x="379.30" y="173.00" font-size="4.4" text-anchor="middle" fill="#707070">10<tspan font-size="3.0" dy="-1.9">−2</tspan></text>
<text x="394.00" y="173.00" font-size="4.4" text-anchor="middle" fill="#707070">10<tspan font-size="3.0" dy="-1.9">0</tspan></text>
<text x="408.70" y="173.00" font-size="4.4" text-anchor="middle" fill="#707070">10<tspan font-size="3.0" dy="-1.9">2</tspan></text>
<text x="377.30" y="183.20" font-size="6.2" text-anchor="middle" fill="#262626" stroke="#262626" stroke-width="0.1" textLength="51" lengthAdjust="spacingAndGlyphs">TCB concentration [nM]</text>
<text x="325.40" y="140.60" font-size="5.9" text-anchor="middle" fill="#262626" stroke="#262626" stroke-width="0.1" textLength="39" lengthAdjust="spacingAndGlyphs" transform="rotate(-90 325.40 140.60)">CD8+CD69+ [%]</text>
<path d="M391.50 153.23 L398.90 151.96 L406.30 148.80" fill="none" stroke="#484c58" stroke-width="0.95" stroke-linejoin="round"/>
<path d="M347.10 152.71 L348.45 152.71 L349.79 152.70 L351.14 152.70 L352.48 152.70 L353.83 152.69 L355.17 152.68 L356.52 152.68 L357.86 152.66 L359.21 152.65 L360.55 152.63 L361.90 152.61 L363.25 152.58 L364.59 152.54 L365.94 152.48 L367.28 152.42 L368.63 152.33 L369.97 152.22 L371.32 152.08 L372.66 151.89 L374.01 151.66 L375.35 151.37 L376.70 151.00 L378.05 150.54 L379.39 149.97 L380.74 149.28 L382.08 148.44 L383.43 147.45 L384.77 146.31 L386.12 145.02 L387.46 143.60 L388.81 142.09 L390.15 140.53 L391.50 138.98 L392.85 137.47 L394.19 136.06 L395.54 134.79 L396.88 133.65 L398.23 132.68 L399.57 131.85 L400.92 131.17 L402.26 130.61 L403.61 130.16 L404.95 129.79 L406.30 129.51" fill="none" stroke="#40a8d8" stroke-width="0.95" stroke-linejoin="round"/>
<path d="M347.10 152.23 L348.45 152.23 L349.79 152.23 L351.14 152.23 L352.48 152.23 L353.83 152.23 L355.17 152.23 L356.52 152.23 L357.86 152.22 L359.21 152.22 L360.55 152.21 L361.90 152.20 L363.25 152.17 L364.59 152.12 L365.94 152.03 L367.28 151.87 L368.63 151.57 L369.97 151.06 L371.32 150.17 L372.66 148.71 L374.01 146.46 L375.35 143.36 L376.70 139.66 L378.05 135.93 L379.39 132.77 L380.74 130.45 L382.08 128.93 L383.43 128.00 L384.77 127.46 L386.12 127.15 L387.46 126.98 L388.81 126.88 L390.15 126.83 L391.50 126.80 L392.85 126.79 L394.19 126.78 L395.54 126.77 L396.88 126.77 L398.23 126.77 L399.57 126.77 L400.92 126.77 L402.26 126.77 L403.61 126.77 L404.95 126.77 L406.30 126.77" fill="none" stroke="#2f9e4c" stroke-width="0.95" stroke-linejoin="round"/>
<path d="M347.10 152.15 L348.45 152.14 L349.79 152.14 L351.14 152.13 L352.48 152.13 L353.83 152.11 L355.17 152.09 L356.52 152.06 L357.86 152.00 L359.21 151.91 L360.55 151.76 L361.90 151.53 L363.25 151.17 L364.59 150.61 L365.94 149.76 L367.28 148.53 L368.63 146.84 L369.97 144.66 L371.32 142.12 L372.66 139.46 L374.01 136.97 L375.35 134.86 L376.70 133.24 L378.05 132.07 L379.39 131.27 L380.74 130.75 L382.08 130.41 L383.43 130.20 L384.77 130.06 L386.12 129.98 L387.46 129.92 L388.81 129.89 L390.15 129.87 L391.50 129.86 L392.85 129.85 L394.19 129.85 L395.54 129.84 L396.88 129.84 L398.23 129.84 L399.57 129.84 L400.92 129.84 L402.26 129.84 L403.61 129.84 L404.95 129.84 L406.30 129.84" fill="none" stroke="#d8304e" stroke-width="0.95" stroke-linejoin="round"/>
<circle cx="391.50" cy="153.23" r="1.0" fill="none" stroke="#3a3e4c" stroke-width="0.8"/>
<circle cx="398.90" cy="151.96" r="1.0" fill="none" stroke="#3a3e4c" stroke-width="0.8"/>
<circle cx="406.30" cy="148.80" r="1.0" fill="none" stroke="#3a3e4c" stroke-width="0.8"/>
<path d="M347.10 151.04 L348.40 153.28 L345.80 153.28 Z" fill="#2f94c8"/>
<path d="M354.50 151.04 L355.80 153.28 L353.20 153.28 Z" fill="#2f94c8"/>
<path d="M361.90 151.04 L363.20 153.28 L360.60 153.28 Z" fill="#2f94c8"/>
<path d="M369.30 151.04 L370.60 153.28 L368.00 153.28 Z" fill="#2f94c8"/>
<path d="M376.70 151.04 L378.00 153.28 L375.40 153.28 Z" fill="#2f94c8"/>
<path d="M384.10 144.75 L385.40 146.99 L382.80 146.99 Z" fill="#2f94c8"/>
<path d="M391.50 137.66 L392.80 139.90 L390.20 139.90 Z" fill="#2f94c8"/>
<path d="M398.90 131.37 L400.20 133.62 L397.60 133.62 Z" fill="#2f94c8"/>
<path d="M406.30 127.83 L407.60 130.07 L405.00 130.07 Z" fill="#2f94c8"/>
<rect x="345.92" y="151.20" width="2.36" height="2.36" fill="#1f8a3a"/>
<rect x="353.32" y="151.20" width="2.36" height="2.36" fill="#1f8a3a"/>
<rect x="360.72" y="151.20" width="2.36" height="2.36" fill="#1f8a3a"/>
<rect x="368.12" y="149.60" width="2.36" height="2.36" fill="#1f8a3a"/>
<rect x="375.52" y="138.63" width="2.36" height="2.36" fill="#1f8a3a"/>
<rect x="382.92" y="126.01" width="2.36" height="2.36" fill="#1f8a3a"/>
<rect x="390.32" y="125.21" width="2.36" height="2.36" fill="#1f8a3a"/>
<rect x="397.72" y="126.01" width="2.36" height="2.36" fill="#1f8a3a"/>
<rect x="405.12" y="126.01" width="2.36" height="2.36" fill="#1f8a3a"/>
<circle cx="347.10" cy="151.96" r="1.18" fill="#a3112f"/>
<circle cx="354.50" cy="151.96" r="1.18" fill="#a3112f"/>
<circle cx="361.90" cy="151.96" r="1.18" fill="#a3112f"/>
<circle cx="369.30" cy="145.63" r="1.18" fill="#a3112f"/>
<circle cx="376.70" cy="133.52" r="1.18" fill="#a3112f"/>
<circle cx="384.10" cy="129.17" r="1.18" fill="#a3112f"/>
<circle cx="391.50" cy="129.17" r="1.18" fill="#a3112f"/>
<circle cx="398.90" cy="129.17" r="1.18" fill="#a3112f"/>
<circle cx="406.30" cy="131.92" r="1.18" fill="#a3112f"/>
<line x1="443.50" y1="118.60" x2="443.50" y2="164.60" stroke="#1a1a1a" stroke-width="0.9"/>
<line x1="442.80" y1="164.50" x2="510.70" y2="164.50" stroke="#1a1a1a" stroke-width="0.9"/>
<line x1="441.40" y1="164.50" x2="443.20" y2="164.50" stroke="#1a1a1a" stroke-width="0.7"/>
<text x="439.20" y="165.80" font-size="4.6" text-anchor="end" fill="#707070">0</text>
<line x1="441.40" y1="155.50" x2="443.20" y2="155.50" stroke="#1a1a1a" stroke-width="0.7"/>
<text x="439.20" y="157.24" font-size="4.6" text-anchor="end" fill="#707070">20</text>
<line x1="441.40" y1="147.50" x2="443.20" y2="147.50" stroke="#1a1a1a" stroke-width="0.7"/>
<text x="439.20" y="148.68" font-size="4.6" text-anchor="end" fill="#707070">40</text>
<line x1="441.40" y1="138.50" x2="443.20" y2="138.50" stroke="#1a1a1a" stroke-width="0.7"/>
<text x="439.20" y="140.12" font-size="4.6" text-anchor="end" fill="#707070">60</text>
<line x1="441.40" y1="129.50" x2="443.20" y2="129.50" stroke="#1a1a1a" stroke-width="0.7"/>
<text x="439.20" y="131.56" font-size="4.6" text-anchor="end" fill="#707070">80</text>
<line x1="441.40" y1="121.50" x2="443.20" y2="121.50" stroke="#1a1a1a" stroke-width="0.7"/>
<text x="439.20" y="123.00" font-size="4.6" text-anchor="end" fill="#707070">100</text>
<line x1="450.50" y1="164.20" x2="450.50" y2="165.80" stroke="#1a1a1a" stroke-width="0.6"/>
<line x1="465.50" y1="164.20" x2="465.50" y2="165.80" stroke="#1a1a1a" stroke-width="0.6"/>
<line x1="479.50" y1="164.20" x2="479.50" y2="165.80" stroke="#1a1a1a" stroke-width="0.6"/>
<line x1="494.50" y1="164.20" x2="494.50" y2="165.80" stroke="#1a1a1a" stroke-width="0.6"/>
<line x1="509.50" y1="164.20" x2="509.50" y2="165.80" stroke="#1a1a1a" stroke-width="0.6"/>
<line x1="445.50" y1="164.20" x2="445.50" y2="165.20" stroke="#666" stroke-width="0.35"/>
<line x1="447.50" y1="164.20" x2="447.50" y2="165.20" stroke="#666" stroke-width="0.35"/>
<line x1="449.50" y1="164.20" x2="449.50" y2="165.20" stroke="#666" stroke-width="0.35"/>
<line x1="451.50" y1="164.20" x2="451.50" y2="165.20" stroke="#666" stroke-width="0.35"/>
<line x1="454.50" y1="164.20" x2="454.50" y2="165.20" stroke="#666" stroke-width="0.35"/>
<line x1="456.50" y1="164.20" x2="456.50" y2="165.20" stroke="#666" stroke-width="0.35"/>
<line x1="458.50" y1="164.20" x2="458.50" y2="165.20" stroke="#666" stroke-width="0.35"/>
<line x1="460.50" y1="164.20" x2="460.50" y2="165.20" stroke="#666" stroke-width="0.35"/>
<line x1="462.50" y1="164.20" x2="462.50" y2="165.20" stroke="#666" stroke-width="0.35"/>
<line x1="465.50" y1="164.20" x2="465.50" y2="165.20" stroke="#666" stroke-width="0.35"/>
<line x1="467.50" y1="164.20" x2="467.50" y2="165.20" stroke="#666" stroke-width="0.35"/>
<line x1="469.50" y1="164.20" x2="469.50" y2="165.20" stroke="#666" stroke-width="0.35"/>
<line x1="471.50" y1="164.20" x2="471.50" y2="165.20" stroke="#666" stroke-width="0.35"/>
<line x1="473.50" y1="164.20" x2="473.50" y2="165.20" stroke="#666" stroke-width="0.35"/>
<line x1="476.50" y1="164.20" x2="476.50" y2="165.20" stroke="#666" stroke-width="0.35"/>
<line x1="478.50" y1="164.20" x2="478.50" y2="165.20" stroke="#666" stroke-width="0.35"/>
<line x1="480.50" y1="164.20" x2="480.50" y2="165.20" stroke="#666" stroke-width="0.35"/>
<line x1="482.50" y1="164.20" x2="482.50" y2="165.20" stroke="#666" stroke-width="0.35"/>
<line x1="484.50" y1="164.20" x2="484.50" y2="165.20" stroke="#666" stroke-width="0.35"/>
<line x1="487.50" y1="164.20" x2="487.50" y2="165.20" stroke="#666" stroke-width="0.35"/>
<line x1="489.50" y1="164.20" x2="489.50" y2="165.20" stroke="#666" stroke-width="0.35"/>
<line x1="491.50" y1="164.20" x2="491.50" y2="165.20" stroke="#666" stroke-width="0.35"/>
<line x1="493.50" y1="164.20" x2="493.50" y2="165.20" stroke="#666" stroke-width="0.35"/>
<line x1="495.50" y1="164.20" x2="495.50" y2="165.20" stroke="#666" stroke-width="0.35"/>
<line x1="498.50" y1="164.20" x2="498.50" y2="165.20" stroke="#666" stroke-width="0.35"/>
<line x1="500.50" y1="164.20" x2="500.50" y2="165.20" stroke="#666" stroke-width="0.35"/>
<line x1="502.50" y1="164.20" x2="502.50" y2="165.20" stroke="#666" stroke-width="0.35"/>
<line x1="504.50" y1="164.20" x2="504.50" y2="165.20" stroke="#666" stroke-width="0.35"/>
<line x1="506.50" y1="164.20" x2="506.50" y2="165.20" stroke="#666" stroke-width="0.35"/>
<line x1="509.50" y1="164.20" x2="509.50" y2="165.20" stroke="#666" stroke-width="0.35"/>
<text x="451.30" y="173.00" font-size="4.4" text-anchor="middle" fill="#707070">10<tspan font-size="3.0" dy="-1.9">−6</tspan></text>
<text x="466.00" y="173.00" font-size="4.4" text-anchor="middle" fill="#707070">10<tspan font-size="3.0" dy="-1.9">−4</tspan></text>
<text x="480.70" y="173.00" font-size="4.4" text-anchor="middle" fill="#707070">10<tspan font-size="3.0" dy="-1.9">−2</tspan></text>
<text x="495.40" y="173.00" font-size="4.4" text-anchor="middle" fill="#707070">10<tspan font-size="3.0" dy="-1.9">0</tspan></text>
<text x="510.10" y="173.00" font-size="4.4" text-anchor="middle" fill="#707070">10<tspan font-size="3.0" dy="-1.9">2</tspan></text>
<text x="478.70" y="183.20" font-size="6.2" text-anchor="middle" fill="#262626" stroke="#262626" stroke-width="0.1" textLength="51" lengthAdjust="spacingAndGlyphs">TCB concentration [nM]</text>
<text x="426.80" y="140.60" font-size="5.9" text-anchor="middle" fill="#262626" stroke="#262626" stroke-width="0.1" textLength="39" lengthAdjust="spacingAndGlyphs" transform="rotate(-90 426.80 140.60)">CD8+CD69+ [%]</text>
<path d="M492.90 134.66 L500.30 134.66 L507.70 134.66" fill="none" stroke="#484c58" stroke-width="0.95" stroke-linejoin="round"/>
<path d="M492.90 131.28 L500.30 131.28 L507.70 131.71" fill="none" stroke="#40a8d8" stroke-width="0.95" stroke-linejoin="round"/>
<path d="M492.90 129.60 L500.30 130.02 L507.70 130.44" fill="none" stroke="#2f9e4c" stroke-width="0.95" stroke-linejoin="round"/>
<path d="M492.90 133.39 L500.30 133.39 L507.70 133.82" fill="none" stroke="#d8304e" stroke-width="0.95" stroke-linejoin="round"/>
<circle cx="492.90" cy="134.66" r="1.1" fill="#333"/>
<circle cx="500.30" cy="134.66" r="1.1" fill="#333"/>
<circle cx="507.70" cy="134.66" r="1.1" fill="#333"/>
<path d="M492.90 130.14 L494.00 132.04 L491.80 132.04 Z" fill="#2f94c8"/>
<path d="M500.30 130.14 L501.40 132.04 L499.20 132.04 Z" fill="#2f94c8"/>
<path d="M507.70 130.57 L508.80 132.47 L506.60 132.47 Z" fill="#2f94c8"/>
<rect x="491.90" y="128.60" width="2.00" height="2.00" fill="#1f8a3a"/>
<rect x="499.30" y="129.02" width="2.00" height="2.00" fill="#1f8a3a"/>
<rect x="506.70" y="129.44" width="2.00" height="2.00" fill="#1f8a3a"/>
<circle cx="492.90" cy="133.39" r="1.0" fill="#a3112f"/>
<circle cx="500.30" cy="133.39" r="1.0" fill="#a3112f"/>
<circle cx="507.70" cy="133.82" r="1.0" fill="#a3112f"/>
<line x1="492.50" y1="124.95" x2="492.50" y2="136.77" stroke="#333" stroke-width="0.7"/>
<line x1="500.50" y1="124.95" x2="500.50" y2="136.77" stroke="#333" stroke-width="0.7"/>
<line x1="507.50" y1="124.95" x2="507.50" y2="136.77" stroke="#333" stroke-width="0.7"/>
<text x="13.60" y="141.00" font-size="6.2" text-anchor="middle" fill="#222" stroke="#222" stroke-width="0.1" textLength="53.5" lengthAdjust="spacingAndGlyphs" transform="rotate(-90 13.60 141.00)">CD69+ in CD8 [%]</text>
<text x="76.00" y="16.20" font-size="5.6" text-anchor="middle" fill="#000" font-weight="bold" stroke="#000" stroke-width="0.15">OPM-2</text>
<text x="76.00" y="22.90" font-size="5.3" text-anchor="middle" fill="#4a4a4a" stroke="#4a4a4a" stroke-width="0.05">~RD GPRC5D 150k</text>
<text x="76.00" y="28.90" font-size="5.3" text-anchor="middle" fill="#4a4a4a" stroke="#4a4a4a" stroke-width="0.05">~RD BCMA 50k</text>
<text x="172.60" y="16.20" font-size="5.6" text-anchor="middle" fill="#000" font-weight="bold" stroke="#000" stroke-width="0.15">NCI-H929</text>
<text x="172.60" y="22.90" font-size="5.3" text-anchor="middle" fill="#4a4a4a" stroke="#4a4a4a" stroke-width="0.05">~RD GPRC5D 70k</text>
<text x="172.60" y="28.90" font-size="5.3" text-anchor="middle" fill="#4a4a4a" stroke="#4a4a4a" stroke-width="0.05">~RD BCMA 300k</text>
<text x="274.70" y="16.20" font-size="5.6" text-anchor="middle" fill="#000" font-weight="bold" stroke="#000" stroke-width="0.15">KMS-12-BM</text>
<text x="274.70" y="22.90" font-size="5.3" text-anchor="middle" fill="#4a4a4a" stroke="#4a4a4a" stroke-width="0.05">~RD GPRC5D 1k</text>
<text x="274.70" y="28.90" font-size="5.3" text-anchor="middle" fill="#4a4a4a" stroke="#4a4a4a" stroke-width="0.05">~RD BCMA 20k</text>
<text x="376.30" y="16.20" font-size="5.6" text-anchor="middle" fill="#000" font-weight="bold" stroke="#000" stroke-width="0.15">U266B1</text>
<text x="376.30" y="22.90" font-size="5.3" text-anchor="middle" fill="#4a4a4a" stroke="#4a4a4a" stroke-width="0.05">~RD GPRC5D 0.5k</text>
<text x="376.30" y="28.90" font-size="5.3" text-anchor="middle" fill="#4a4a4a" stroke="#4a4a4a" stroke-width="0.05">~RD BCMA 25k</text>
<text x="477.70" y="16.20" font-size="5.6" text-anchor="middle" fill="#000" font-weight="bold" stroke="#000" stroke-width="0.15">MKN-45</text>
<text x="477.70" y="22.90" font-size="5.3" text-anchor="middle" fill="#4a4a4a" stroke="#4a4a4a" stroke-width="0.05">RD GPRC5D 0k</text>
<text x="477.70" y="28.90" font-size="5.3" text-anchor="middle" fill="#4a4a4a" stroke="#4a4a4a" stroke-width="0.05">RD BCMA 0k</text>
<line x1="130.20" y1="194.50" x2="139.60" y2="194.50" stroke="#40a8d8" stroke-width="0.9"/>
<path d="M134.90 192.38 L136.66 195.42 L133.14 195.42 Z" fill="#2f94c8"/>
<text x="143.70" y="196.20" font-size="5.8" text-anchor="start" fill="#262626" stroke="#262626" stroke-width="0.1" textLength="51" lengthAdjust="spacingAndGlyphs">1+1 GPRC5D TCB</text>
<line x1="203.00" y1="194.50" x2="211.90" y2="194.50" stroke="#d8304e" stroke-width="0.9"/>
<circle cx="207.50" cy="194.20" r="1.5" fill="#a3112f"/>
<text x="215.10" y="196.20" font-size="5.8" text-anchor="start" fill="#262626" stroke="#262626" stroke-width="0.1" textLength="31" lengthAdjust="spacingAndGlyphs">forimtamig</text>
<line x1="252.10" y1="194.50" x2="261.50" y2="194.50" stroke="#2f9e4c" stroke-width="0.9"/>
<rect x="255.40" y="192.80" width="2.80" height="2.80" fill="#1f8a3a"/>
<text x="266.40" y="196.20" font-size="5.8" text-anchor="start" fill="#262626" stroke="#262626" stroke-width="0.1" textLength="45.8" lengthAdjust="spacingAndGlyphs">2+1 BCMA TCB</text>
<line x1="318.10" y1="194.50" x2="328.90" y2="194.50" stroke="#484c58" stroke-width="0.9"/>
<circle cx="323.50" cy="194.20" r="1.6" fill="none" stroke="#3a3e4c" stroke-width="0.8"/>
<text x="332.20" y="196.20" font-size="5.8" text-anchor="start" fill="#262626" stroke="#262626" stroke-width="0.1" textLength="45.7" lengthAdjust="spacingAndGlyphs">untargeted TCB</text>
<rect x="383.80" y="192.50" width="3.40" height="3.40" fill="#fff" stroke="#333" stroke-width="0.7"/>
<text x="390.20" y="196.20" font-size="5.8" text-anchor="start" fill="#262626" stroke="#262626" stroke-width="0.1" textLength="28.3" lengthAdjust="spacingAndGlyphs">untreated</text>
<text x="8.50" y="14.60" font-size="10.6" text-anchor="start" fill="#000" font-weight="bold" stroke="#000" stroke-width="0.45">E</text>
<text x="17.30" y="222.90" font-size="10.6" text-anchor="start" fill="#000" font-weight="bold" stroke="#000" stroke-width="0.45">F</text>
<text x="220.00" y="222.60" font-size="10.6" text-anchor="start" fill="#000" font-weight="bold" stroke="#000" stroke-width="0.45">G</text>
<line x1="61.50" y1="229.80" x2="61.50" y2="376.30" stroke="#1a1a1a" stroke-width="1.0"/>
<line x1="61.20" y1="375.50" x2="205.50" y2="375.50" stroke="#1a1a1a" stroke-width="1.0"/>
<line x1="59.40" y1="232.50" x2="61.70" y2="232.50" stroke="#1a1a1a" stroke-width="0.8"/>
<text x="56.70" y="234.90" font-size="5.9" text-anchor="end" fill="#262626" stroke="#262626" stroke-width="0.1">10000</text>
<line x1="59.40" y1="261.50" x2="61.70" y2="261.50" stroke="#1a1a1a" stroke-width="0.8"/>
<text x="56.70" y="263.40" font-size="5.9" text-anchor="end" fill="#262626" stroke="#262626" stroke-width="0.1">1000</text>
<line x1="59.40" y1="289.50" x2="61.70" y2="289.50" stroke="#1a1a1a" stroke-width="0.8"/>
<text x="56.70" y="291.90" font-size="5.9" text-anchor="end" fill="#262626" stroke="#262626" stroke-width="0.1">100</text>
<line x1="59.40" y1="318.50" x2="61.70" y2="318.50" stroke="#1a1a1a" stroke-width="0.8"/>
<text x="56.70" y="320.40" font-size="5.9" text-anchor="end" fill="#262626" stroke="#262626" stroke-width="0.1">10</text>
<line x1="59.40" y1="346.50" x2="61.70" y2="346.50" stroke="#1a1a1a" stroke-width="0.8"/>
<text x="56.70" y="348.90" font-size="5.9" text-anchor="end" fill="#262626" stroke="#262626" stroke-width="0.1">1</text>
<line x1="59.40" y1="375.50" x2="61.70" y2="375.50" stroke="#1a1a1a" stroke-width="0.8"/>
<text x="56.70" y="377.40" font-size="5.9" text-anchor="end" fill="#262626" stroke="#262626" stroke-width="0.1">0.1</text>
<line x1="60.40" y1="366.50" x2="61.70" y2="366.50" stroke="#1a1a1a" stroke-width="0.5"/>
<line x1="60.40" y1="361.50" x2="61.70" y2="361.50" stroke="#1a1a1a" stroke-width="0.5"/>
<line x1="60.40" y1="358.50" x2="61.70" y2="358.50" stroke="#1a1a1a" stroke-width="0.5"/>
<line x1="60.40" y1="355.50" x2="61.70" y2="355.50" stroke="#1a1a1a" stroke-width="0.5"/>
<line x1="60.40" y1="353.50" x2="61.70" y2="353.50" stroke="#1a1a1a" stroke-width="0.5"/>
<line x1="60.40" y1="351.50" x2="61.70" y2="351.50" stroke="#1a1a1a" stroke-width="0.5"/>
<line x1="60.40" y1="349.50" x2="61.70" y2="349.50" stroke="#1a1a1a" stroke-width="0.5"/>
<line x1="60.40" y1="348.50" x2="61.70" y2="348.50" stroke="#1a1a1a" stroke-width="0.5"/>
<line x1="60.40" y1="338.50" x2="61.70" y2="338.50" stroke="#1a1a1a" stroke-width="0.5"/>
<line x1="60.40" y1="333.50" x2="61.70" y2="333.50" stroke="#1a1a1a" stroke-width="0.5"/>
<line x1="60.40" y1="329.50" x2="61.70" y2="329.50" stroke="#1a1a1a" stroke-width="0.5"/>
<line x1="60.40" y1="326.50" x2="61.70" y2="326.50" stroke="#1a1a1a" stroke-width="0.5"/>
<line x1="60.40" y1="324.50" x2="61.70" y2="324.50" stroke="#1a1a1a" stroke-width="0.5"/>
<line x1="60.40" y1="322.50" x2="61.70" y2="322.50" stroke="#1a1a1a" stroke-width="0.5"/>
<line x1="60.40" y1="321.50" x2="61.70" y2="321.50" stroke="#1a1a1a" stroke-width="0.5"/>
<line x1="60.40" y1="319.50" x2="61.70" y2="319.50" stroke="#1a1a1a" stroke-width="0.5"/>
<line x1="60.40" y1="309.50" x2="61.70" y2="309.50" stroke="#1a1a1a" stroke-width="0.5"/>
<line x1="60.40" y1="304.50" x2="61.70" y2="304.50" stroke="#1a1a1a" stroke-width="0.5"/>
<line x1="60.40" y1="301.50" x2="61.70" y2="301.50" stroke="#1a1a1a" stroke-width="0.5"/>
<line x1="60.40" y1="298.50" x2="61.70" y2="298.50" stroke="#1a1a1a" stroke-width="0.5"/>
<line x1="60.40" y1="296.50" x2="61.70" y2="296.50" stroke="#1a1a1a" stroke-width="0.5"/>
<line x1="60.40" y1="294.50" x2="61.70" y2="294.50" stroke="#1a1a1a" stroke-width="0.5"/>
<line x1="60.40" y1="292.50" x2="61.70" y2="292.50" stroke="#1a1a1a" stroke-width="0.5"/>
<line x1="60.40" y1="291.50" x2="61.70" y2="291.50" stroke="#1a1a1a" stroke-width="0.5"/>
<line x1="60.40" y1="281.50" x2="61.70" y2="281.50" stroke="#1a1a1a" stroke-width="0.5"/>
<line x1="60.40" y1="276.50" x2="61.70" y2="276.50" stroke="#1a1a1a" stroke-width="0.5"/>
<line x1="60.40" y1="272.50" x2="61.70" y2="272.50" stroke="#1a1a1a" stroke-width="0.5"/>
<line x1="60.40" y1="269.50" x2="61.70" y2="269.50" stroke="#1a1a1a" stroke-width="0.5"/>
<line x1="60.40" y1="267.50" x2="61.70" y2="267.50" stroke="#1a1a1a" stroke-width="0.5"/>
<line x1="60.40" y1="265.50" x2="61.70" y2="265.50" stroke="#1a1a1a" stroke-width="0.5"/>
<line x1="60.40" y1="264.50" x2="61.70" y2="264.50" stroke="#1a1a1a" stroke-width="0.5"/>
<line x1="60.40" y1="262.50" x2="61.70" y2="262.50" stroke="#1a1a1a" stroke-width="0.5"/>
<line x1="60.40" y1="252.50" x2="61.70" y2="252.50" stroke="#1a1a1a" stroke-width="0.5"/>
<line x1="60.40" y1="247.50" x2="61.70" y2="247.50" stroke="#1a1a1a" stroke-width="0.5"/>
<line x1="60.40" y1="244.50" x2="61.70" y2="244.50" stroke="#1a1a1a" stroke-width="0.5"/>
<line x1="60.40" y1="241.50" x2="61.70" y2="241.50" stroke="#1a1a1a" stroke-width="0.5"/>
<line x1="60.40" y1="239.50" x2="61.70" y2="239.50" stroke="#1a1a1a" stroke-width="0.5"/>
<line x1="60.40" y1="237.50" x2="61.70" y2="237.50" stroke="#1a1a1a" stroke-width="0.5"/>
<line x1="60.40" y1="235.50" x2="61.70" y2="235.50" stroke="#1a1a1a" stroke-width="0.5"/>
<line x1="60.40" y1="234.50" x2="61.70" y2="234.50" stroke="#1a1a1a" stroke-width="0.5"/>
<line x1="75.50" y1="375.80" x2="75.50" y2="377.80" stroke="#1a1a1a" stroke-width="0.8"/>
<text x="75.30" y="387.00" font-size="6.3" text-anchor="middle" fill="#262626" stroke="#262626" stroke-width="0.08" textLength="20" lengthAdjust="spacingAndGlyphs">OPM-2</text>
<line x1="114.50" y1="375.80" x2="114.50" y2="377.80" stroke="#1a1a1a" stroke-width="0.8"/>
<text x="114.20" y="387.00" font-size="6.3" text-anchor="middle" fill="#262626" stroke="#262626" stroke-width="0.08" textLength="28.5" lengthAdjust="spacingAndGlyphs">NCI-H929</text>
<line x1="153.50" y1="375.80" x2="153.50" y2="377.80" stroke="#1a1a1a" stroke-width="0.8"/>
<text x="153.60" y="387.00" font-size="6.3" text-anchor="middle" fill="#262626" stroke="#262626" stroke-width="0.08" textLength="34" lengthAdjust="spacingAndGlyphs">KMS-12-BM</text>
<line x1="192.50" y1="375.80" x2="192.50" y2="377.80" stroke="#1a1a1a" stroke-width="0.8"/>
<text x="192.50" y="387.00" font-size="6.3" text-anchor="middle" fill="#262626" stroke="#262626" stroke-width="0.08" textLength="24.5" lengthAdjust="spacingAndGlyphs">U-266B1</text>
<text x="33.80" y="302.80" font-size="6.0" text-anchor="middle" fill="#262626" stroke="#262626" stroke-width="0.1" textLength="67.5" lengthAdjust="spacingAndGlyphs" transform="rotate(-90 33.80 302.80)">CD8 CD69% EC50 (pM)</text>
<line x1="66.30" y1="298.50" x2="76.20" y2="298.50" stroke="#222" stroke-width="0.9"/>
<path d="M71.25 293.90V296.10M70.25 294.45L72.25 295.55M70.25 295.55L72.25 294.45" stroke="#222" stroke-width="0.6"/>
<line x1="105.00" y1="312.50" x2="112.80" y2="312.50" stroke="#222" stroke-width="0.9"/>
<path d="M108.90 308.00V310.20M107.90 308.55L109.90 309.65M107.90 309.65L109.90 308.55" stroke="#222" stroke-width="0.6"/>
<line x1="115.10" y1="312.50" x2="124.10" y2="312.50" stroke="#222" stroke-width="0.9"/>
<path d="M119.60 308.00V310.20M118.60 308.55L120.60 309.65M118.60 309.65L120.60 308.55" stroke="#222" stroke-width="0.6"/>
<path d="M68.70 304.63 L70.41 307.58 L67.00 307.58 Z" fill="#3a9fd6"/>
<path d="M68.90 309.83 L70.61 312.78 L67.20 312.78 Z" fill="#3a9fd6"/>
<path d="M66.80 324.73 L68.50 327.68 L65.09 327.68 Z" fill="#3a9fd6"/>
<path d="M70.20 325.03 L71.91 327.98 L68.50 327.98 Z" fill="#3a9fd6"/>
<line x1="65.45" y1="315.50" x2="72.15" y2="315.50" stroke="#3a9fd6" stroke-width="0.9"/>
<line x1="68.50" y1="309.20" x2="68.50" y2="321.00" stroke="#3a9fd6" stroke-width="0.7"/>
<rect x="80.65" y="320.15" width="3.10" height="3.10" fill="#34a03c"/>
<rect x="78.75" y="324.25" width="3.10" height="3.10" fill="#34a03c"/>
<rect x="82.55" y="325.65" width="3.10" height="3.10" fill="#34a03c"/>
<rect x="80.65" y="331.85" width="3.10" height="3.10" fill="#34a03c"/>
<circle cx="75.30" cy="366.40" r="1.55" fill="#b3123a"/>
<circle cx="75.30" cy="369.60" r="1.55" fill="#b3123a"/>
<circle cx="75.30" cy="374.60" r="1.55" fill="#b3123a"/>
<line x1="72.30" y1="369.50" x2="78.30" y2="369.50" stroke="#b3123a" stroke-width="0.9"/>
<path d="M107.20 319.93 L108.91 322.88 L105.50 322.88 Z" fill="#3a9fd6"/>
<path d="M105.90 324.63 L107.61 327.58 L104.20 327.58 Z" fill="#3a9fd6"/>
<path d="M109.10 325.23 L110.80 328.18 L107.39 328.18 Z" fill="#3a9fd6"/>
<path d="M107.40 336.23 L109.11 339.18 L105.70 339.18 Z" fill="#3a9fd6"/>
<line x1="104.15" y1="326.50" x2="110.65" y2="326.50" stroke="#3a9fd6" stroke-width="0.9"/>
<rect x="121.65" y="319.65" width="3.10" height="3.10" fill="#34a03c"/>
<rect x="118.45" y="322.85" width="3.10" height="3.10" fill="#34a03c"/>
<rect x="121.05" y="325.75" width="3.10" height="3.10" fill="#34a03c"/>
<rect x="120.15" y="336.45" width="3.10" height="3.10" fill="#34a03c"/>
<circle cx="114.20" cy="364.00" r="1.55" fill="#b3123a"/>
<circle cx="114.20" cy="368.00" r="1.55" fill="#b3123a"/>
<circle cx="114.20" cy="374.60" r="1.55" fill="#b3123a"/>
<line x1="111.20" y1="368.50" x2="117.20" y2="368.50" stroke="#b3123a" stroke-width="0.9"/>
<path d="M146.80 260.53 L148.51 263.48 L145.09 263.48 Z" fill="#3a9fd6"/>
<line x1="143.05" y1="262.50" x2="150.55" y2="262.50" stroke="#3a9fd6" stroke-width="0.9"/>
<circle cx="153.60" cy="315.30" r="1.55" fill="#b3123a"/>
<circle cx="153.60" cy="320.50" r="1.55" fill="#b3123a"/>
<circle cx="153.60" cy="331.80" r="1.55" fill="#b3123a"/>
<line x1="150.10" y1="320.50" x2="157.10" y2="320.50" stroke="#b3123a" stroke-width="0.9"/>
<rect x="158.65" y="335.05" width="3.10" height="3.10" fill="#34a03c"/>
<rect x="156.65" y="351.45" width="3.10" height="3.10" fill="#34a03c"/>
<rect x="161.05" y="351.45" width="3.10" height="3.10" fill="#34a03c"/>
<path d="M185.90 270.43 L187.61 273.38 L184.19 273.38 Z" fill="#3a9fd6"/>
<path d="M185.90 277.43 L187.61 280.38 L184.19 280.38 Z" fill="#3a9fd6"/>
<path d="M185.90 291.63 L187.61 294.58 L184.19 294.58 Z" fill="#3a9fd6"/>
<line x1="182.65" y1="279.50" x2="189.15" y2="279.50" stroke="#3a9fd6" stroke-width="0.9"/>
<line x1="185.50" y1="271.00" x2="185.50" y2="285.00" stroke="#3a9fd6" stroke-width="0.7"/>
<circle cx="192.50" cy="344.30" r="1.55" fill="#b3123a"/>
<circle cx="192.50" cy="351.90" r="1.55" fill="#b3123a"/>
<circle cx="192.50" cy="372.40" r="1.55" fill="#b3123a"/>
<line x1="189.00" y1="351.50" x2="196.00" y2="351.50" stroke="#b3123a" stroke-width="0.9"/>
<rect x="197.85" y="326.25" width="3.10" height="3.10" fill="#34a03c"/>
<rect x="197.85" y="335.75" width="3.10" height="3.10" fill="#34a03c"/>
<line x1="196.25" y1="330.50" x2="202.55" y2="330.50" stroke="#34a03c" stroke-width="0.9"/>
<line x1="79.50" y1="326.50" x2="85.50" y2="326.50" stroke="#34a03c" stroke-width="0.8"/>
<line x1="118.70" y1="325.50" x2="124.70" y2="325.50" stroke="#34a03c" stroke-width="0.8"/>
<line x1="267.50" y1="229.80" x2="267.50" y2="375.90" stroke="#1a1a1a" stroke-width="1.0"/>
<line x1="267.00" y1="375.50" x2="411.00" y2="375.50" stroke="#1a1a1a" stroke-width="1.0"/>
<line x1="265.20" y1="232.50" x2="267.50" y2="232.50" stroke="#1a1a1a" stroke-width="0.8"/>
<text x="262.50" y="234.90" font-size="5.9" text-anchor="end" fill="#262626" stroke="#262626" stroke-width="0.1">10000</text>
<line x1="265.20" y1="261.50" x2="267.50" y2="261.50" stroke="#1a1a1a" stroke-width="0.8"/>
<text x="262.50" y="263.40" font-size="5.9" text-anchor="end" fill="#262626" stroke="#262626" stroke-width="0.1">1000</text>
<line x1="265.20" y1="289.50" x2="267.50" y2="289.50" stroke="#1a1a1a" stroke-width="0.8"/>
<text x="262.50" y="291.90" font-size="5.9" text-anchor="end" fill="#262626" stroke="#262626" stroke-width="0.1">100</text>
<line x1="265.20" y1="318.50" x2="267.50" y2="318.50" stroke="#1a1a1a" stroke-width="0.8"/>
<text x="262.50" y="320.40" font-size="5.9" text-anchor="end" fill="#262626" stroke="#262626" stroke-width="0.1">10</text>
<line x1="265.20" y1="346.50" x2="267.50" y2="346.50" stroke="#1a1a1a" stroke-width="0.8"/>
<text x="262.50" y="348.90" font-size="5.9" text-anchor="end" fill="#262626" stroke="#262626" stroke-width="0.1">1</text>
<line x1="265.20" y1="375.50" x2="267.50" y2="375.50" stroke="#1a1a1a" stroke-width="0.8"/>
<text x="262.50" y="377.40" font-size="5.9" text-anchor="end" fill="#262626" stroke="#262626" stroke-width="0.1">0,1</text>
<line x1="266.20" y1="366.50" x2="267.50" y2="366.50" stroke="#1a1a1a" stroke-width="0.5"/>
<line x1="266.20" y1="361.50" x2="267.50" y2="361.50" stroke="#1a1a1a" stroke-width="0.5"/>
<line x1="266.20" y1="358.50" x2="267.50" y2="358.50" stroke="#1a1a1a" stroke-width="0.5"/>
<line x1="266.20" y1="355.50" x2="267.50" y2="355.50" stroke="#1a1a1a" stroke-width="0.5"/>
<line x1="266.20" y1="353.50" x2="267.50" y2="353.50" stroke="#1a1a1a" stroke-width="0.5"/>
<line x1="266.20" y1="351.50" x2="267.50" y2="351.50" stroke="#1a1a1a" stroke-width="0.5"/>
<line x1="266.20" y1="349.50" x2="267.50" y2="349.50" stroke="#1a1a1a" stroke-width="0.5"/>
<line x1="266.20" y1="348.50" x2="267.50" y2="348.50" stroke="#1a1a1a" stroke-width="0.5"/>
<line x1="266.20" y1="338.50" x2="267.50" y2="338.50" stroke="#1a1a1a" stroke-width="0.5"/>
<line x1="266.20" y1="333.50" x2="267.50" y2="333.50" stroke="#1a1a1a" stroke-width="0.5"/>
<line x1="266.20" y1="329.50" x2="267.50" y2="329.50" stroke="#1a1a1a" stroke-width="0.5"/>
<line x1="266.20" y1="326.50" x2="267.50" y2="326.50" stroke="#1a1a1a" stroke-width="0.5"/>
<line x1="266.20" y1="324.50" x2="267.50" y2="324.50" stroke="#1a1a1a" stroke-width="0.5"/>
<line x1="266.20" y1="322.50" x2="267.50" y2="322.50" stroke="#1a1a1a" stroke-width="0.5"/>
<line x1="266.20" y1="321.50" x2="267.50" y2="321.50" stroke="#1a1a1a" stroke-width="0.5"/>
<line x1="266.20" y1="319.50" x2="267.50" y2="319.50" stroke="#1a1a1a" stroke-width="0.5"/>
<line x1="266.20" y1="309.50" x2="267.50" y2="309.50" stroke="#1a1a1a" stroke-width="0.5"/>
<line x1="266.20" y1="304.50" x2="267.50" y2="304.50" stroke="#1a1a1a" stroke-width="0.5"/>
<line x1="266.20" y1="301.50" x2="267.50" y2="301.50" stroke="#1a1a1a" stroke-width="0.5"/>
<line x1="266.20" y1="298.50" x2="267.50" y2="298.50" stroke="#1a1a1a" stroke-width="0.5"/>
<line x1="266.20" y1="296.50" x2="267.50" y2="296.50" stroke="#1a1a1a" stroke-width="0.5"/>
<line x1="266.20" y1="294.50" x2="267.50" y2="294.50" stroke="#1a1a1a" stroke-width="0.5"/>
<line x1="266.20" y1="292.50" x2="267.50" y2="292.50" stroke="#1a1a1a" stroke-width="0.5"/>
<line x1="266.20" y1="291.50" x2="267.50" y2="291.50" stroke="#1a1a1a" stroke-width="0.5"/>
<line x1="266.20" y1="281.50" x2="267.50" y2="281.50" stroke="#1a1a1a" stroke-width="0.5"/>
<line x1="266.20" y1="276.50" x2="267.50" y2="276.50" stroke="#1a1a1a" stroke-width="0.5"/>
<line x1="266.20" y1="272.50" x2="267.50" y2="272.50" stroke="#1a1a1a" stroke-width="0.5"/>
<line x1="266.20" y1="269.50" x2="267.50" y2="269.50" stroke="#1a1a1a" stroke-width="0.5"/>
<line x1="266.20" y1="267.50" x2="267.50" y2="267.50" stroke="#1a1a1a" stroke-width="0.5"/>
<line x1="266.20" y1="265.50" x2="267.50" y2="265.50" stroke="#1a1a1a" stroke-width="0.5"/>
<line x1="266.20" y1="264.50" x2="267.50" y2="264.50" stroke="#1a1a1a" stroke-width="0.5"/>
<line x1="266.20" y1="262.50" x2="267.50" y2="262.50" stroke="#1a1a1a" stroke-width="0.5"/>
<line x1="266.20" y1="252.50" x2="267.50" y2="252.50" stroke="#1a1a1a" stroke-width="0.5"/>
<line x1="266.20" y1="247.50" x2="267.50" y2="247.50" stroke="#1a1a1a" stroke-width="0.5"/>
<line x1="266.20" y1="244.50" x2="267.50" y2="244.50" stroke="#1a1a1a" stroke-width="0.5"/>
<line x1="266.20" y1="241.50" x2="267.50" y2="241.50" stroke="#1a1a1a" stroke-width="0.5"/>
<line x1="266.20" y1="239.50" x2="267.50" y2="239.50" stroke="#1a1a1a" stroke-width="0.5"/>
<line x1="266.20" y1="237.50" x2="267.50" y2="237.50" stroke="#1a1a1a" stroke-width="0.5"/>
<line x1="266.20" y1="235.50" x2="267.50" y2="235.50" stroke="#1a1a1a" stroke-width="0.5"/>
<line x1="266.20" y1="234.50" x2="267.50" y2="234.50" stroke="#1a1a1a" stroke-width="0.5"/>
<line x1="281.50" y1="375.40" x2="281.50" y2="377.40" stroke="#1a1a1a" stroke-width="0.8"/>
<text x="281.20" y="386.60" font-size="6.3" text-anchor="middle" fill="#262626" stroke="#262626" stroke-width="0.08" textLength="20" lengthAdjust="spacingAndGlyphs">OPM-2</text>
<line x1="320.50" y1="375.40" x2="320.50" y2="377.40" stroke="#1a1a1a" stroke-width="0.8"/>
<text x="320.00" y="386.60" font-size="6.3" text-anchor="middle" fill="#262626" stroke="#262626" stroke-width="0.08" textLength="28.5" lengthAdjust="spacingAndGlyphs">NCI-H929</text>
<line x1="359.50" y1="375.40" x2="359.50" y2="377.40" stroke="#1a1a1a" stroke-width="0.8"/>
<text x="359.40" y="386.60" font-size="6.3" text-anchor="middle" fill="#262626" stroke="#262626" stroke-width="0.08" textLength="34" lengthAdjust="spacingAndGlyphs">KMS-12-BM</text>
<line x1="398.50" y1="375.40" x2="398.50" y2="377.40" stroke="#1a1a1a" stroke-width="0.8"/>
<text x="398.50" y="386.60" font-size="6.3" text-anchor="middle" fill="#262626" stroke="#262626" stroke-width="0.08" textLength="24.5" lengthAdjust="spacingAndGlyphs">U-266B1</text>
<text x="238.90" y="302.80" font-size="6.0" text-anchor="middle" fill="#262626" stroke="#262626" stroke-width="0.1" textLength="67.5" lengthAdjust="spacingAndGlyphs" transform="rotate(-90 238.90 302.80)">CD8 CD25% EC50 (pM)</text>
<line x1="271.60" y1="278.50" x2="282.20" y2="278.50" stroke="#222" stroke-width="0.9"/>
<path d="M276.90 274.10V276.30M275.90 274.65L277.90 275.75M275.90 275.75L277.90 274.65" stroke="#222" stroke-width="0.6"/>
<line x1="310.80" y1="292.50" x2="319.50" y2="292.50" stroke="#222" stroke-width="0.9"/>
<path d="M315.15 288.30V290.50M314.15 288.85L316.15 289.95M314.15 289.95L316.15 288.85" stroke="#222" stroke-width="0.6"/>
<line x1="322.00" y1="292.50" x2="330.10" y2="292.50" stroke="#222" stroke-width="0.9"/>
<path d="M326.05 288.30V290.50M325.05 288.85L327.05 289.95M325.05 289.95L327.05 288.85" stroke="#222" stroke-width="0.6"/>
<path d="M274.10 285.13 L275.81 288.08 L272.40 288.08 Z" fill="#3a9fd6"/>
<path d="M272.90 296.03 L274.60 298.98 L271.19 298.98 Z" fill="#3a9fd6"/>
<path d="M275.60 297.53 L277.31 300.48 L273.90 300.48 Z" fill="#3a9fd6"/>
<path d="M274.90 304.23 L276.60 307.18 L273.19 307.18 Z" fill="#3a9fd6"/>
<line x1="271.30" y1="296.50" x2="278.70" y2="296.50" stroke="#3a9fd6" stroke-width="0.9"/>
<line x1="275.50" y1="292.00" x2="275.50" y2="301.20" stroke="#3a9fd6" stroke-width="0.7"/>
<rect x="286.25" y="297.75" width="3.10" height="3.10" fill="#34a03c"/>
<rect x="286.25" y="307.65" width="3.10" height="3.10" fill="#34a03c"/>
<rect x="284.45" y="317.65" width="3.10" height="3.10" fill="#34a03c"/>
<rect x="288.15" y="317.65" width="3.10" height="3.10" fill="#34a03c"/>
<line x1="284.10" y1="309.50" x2="291.50" y2="309.50" stroke="#34a03c" stroke-width="0.9"/>
<line x1="287.50" y1="304.80" x2="287.50" y2="314.70" stroke="#34a03c" stroke-width="0.7"/>
<circle cx="281.10" cy="339.50" r="1.55" fill="#b3123a"/>
<circle cx="279.80" cy="343.90" r="1.55" fill="#b3123a"/>
<circle cx="283.50" cy="347.40" r="1.55" fill="#b3123a"/>
<circle cx="279.80" cy="351.40" r="1.55" fill="#b3123a"/>
<line x1="277.25" y1="345.50" x2="285.15" y2="345.50" stroke="#b3123a" stroke-width="0.9"/>
<path d="M311.50 306.03 L313.20 308.98 L309.80 308.98 Z" fill="#3a9fd6"/>
<path d="M312.50 309.93 L314.20 312.88 L310.80 312.88 Z" fill="#3a9fd6"/>
<path d="M315.00 309.23 L316.70 312.18 L313.30 312.18 Z" fill="#3a9fd6"/>
<path d="M312.50 322.83 L314.20 325.78 L310.80 325.78 Z" fill="#3a9fd6"/>
<line x1="309.30" y1="311.50" x2="316.70" y2="311.50" stroke="#3a9fd6" stroke-width="0.9"/>
<rect x="323.35" y="308.15" width="3.10" height="3.10" fill="#34a03c"/>
<rect x="326.65" y="309.45" width="3.10" height="3.10" fill="#34a03c"/>
<rect x="324.15" y="311.95" width="3.10" height="3.10" fill="#34a03c"/>
<rect x="324.85" y="325.55" width="3.10" height="3.10" fill="#34a03c"/>
<line x1="322.40" y1="312.50" x2="329.40" y2="312.50" stroke="#34a03c" stroke-width="0.9"/>
<circle cx="318.60" cy="352.00" r="1.55" fill="#b3123a"/>
<circle cx="321.00" cy="353.60" r="1.55" fill="#b3123a"/>
<circle cx="322.60" cy="352.60" r="1.55" fill="#b3123a"/>
<circle cx="320.20" cy="354.60" r="1.55" fill="#b3123a"/>
<path d="M352.60 245.93 L354.31 248.88 L350.90 248.88 Z" fill="#3a9fd6"/>
<line x1="348.10" y1="247.50" x2="357.10" y2="247.50" stroke="#3a9fd6" stroke-width="0.9"/>
<circle cx="359.40" cy="306.20" r="1.55" fill="#b3123a"/>
<circle cx="359.40" cy="311.10" r="1.55" fill="#b3123a"/>
<circle cx="359.40" cy="318.70" r="1.55" fill="#b3123a"/>
<line x1="355.90" y1="311.50" x2="362.90" y2="311.50" stroke="#b3123a" stroke-width="0.9"/>
<line x1="359.50" y1="308.00" x2="359.50" y2="314.00" stroke="#b3123a" stroke-width="0.7"/>
<rect x="364.25" y="328.45" width="3.10" height="3.10" fill="#34a03c"/>
<rect x="364.25" y="332.25" width="3.10" height="3.10" fill="#34a03c"/>
<rect x="364.25" y="338.65" width="3.10" height="3.10" fill="#34a03c"/>
<line x1="362.30" y1="333.50" x2="369.30" y2="333.50" stroke="#34a03c" stroke-width="0.9"/>
<line x1="365.50" y1="330.50" x2="365.50" y2="337.00" stroke="#34a03c" stroke-width="0.7"/>
<path d="M391.20 275.03 L392.90 277.98 L389.50 277.98 Z" fill="#3a9fd6"/>
<line x1="386.50" y1="276.50" x2="395.90" y2="276.50" stroke="#3a9fd6" stroke-width="0.9"/>
<circle cx="398.70" cy="330.00" r="1.55" fill="#b3123a"/>
<circle cx="398.70" cy="333.80" r="1.55" fill="#b3123a"/>
<circle cx="398.70" cy="341.30" r="1.55" fill="#b3123a"/>
<line x1="395.20" y1="333.50" x2="402.20" y2="333.50" stroke="#b3123a" stroke-width="0.9"/>
<line x1="398.50" y1="331.00" x2="398.50" y2="337.00" stroke="#b3123a" stroke-width="0.7"/>
<rect x="403.95" y="314.45" width="3.10" height="3.10" fill="#34a03c"/>
<rect x="403.95" y="322.75" width="3.10" height="3.10" fill="#34a03c"/>
<line x1="402.25" y1="318.50" x2="408.75" y2="318.50" stroke="#34a03c" stroke-width="0.9"/>
<rect x="405.65" y="315.95" width="3.10" height="3.10" fill="#34a03c"/>
<path d="M106.70 393.00 L108.62 396.33 L104.78 396.33 Z" fill="#3a9fd6"/>
<text x="111.80" y="397.30" font-size="6.3" text-anchor="start" fill="#262626" stroke="#262626" stroke-width="0.08" textLength="51.5" lengthAdjust="spacingAndGlyphs">1+1 GPRC5D TCB</text>
<circle cx="106.70" cy="404.70" r="1.6" fill="#b3123a"/>
<text x="111.80" y="406.70" font-size="6.3" text-anchor="start" fill="#262626" stroke="#262626" stroke-width="0.08" textLength="32.0" lengthAdjust="spacingAndGlyphs">Forimtamig</text>
<rect x="105.20" y="412.70" width="3.00" height="3.00" fill="#34a03c"/>
<text x="111.80" y="416.30" font-size="6.3" text-anchor="start" fill="#262626" stroke="#262626" stroke-width="0.08" textLength="45.4" lengthAdjust="spacingAndGlyphs">2+1 BCMA TCB</text>
<path d="M312.40 393.00 L314.32 396.33 L310.47 396.33 Z" fill="#3a9fd6"/>
<text x="317.40" y="397.30" font-size="6.3" text-anchor="start" fill="#262626" stroke="#262626" stroke-width="0.08" textLength="51.5" lengthAdjust="spacingAndGlyphs">1+1 GPRC5D TCB</text>
<circle cx="312.40" cy="404.70" r="1.6" fill="#b3123a"/>
<text x="317.40" y="406.70" font-size="6.3" text-anchor="start" fill="#262626" stroke="#262626" stroke-width="0.08" textLength="32.0" lengthAdjust="spacingAndGlyphs">Forimtamig</text>
<rect x="310.90" y="412.70" width="3.00" height="3.00" fill="#34a03c"/>
<text x="317.40" y="416.30" font-size="6.3" text-anchor="start" fill="#262626" stroke="#262626" stroke-width="0.08" textLength="45.4" lengthAdjust="spacingAndGlyphs">2+1 BCMA TCB</text>
<rect x="0.5" y="0.5" width="519" height="423" fill="none" stroke="#4a4a4a" stroke-width="1"/>
</svg>
</body></html>
